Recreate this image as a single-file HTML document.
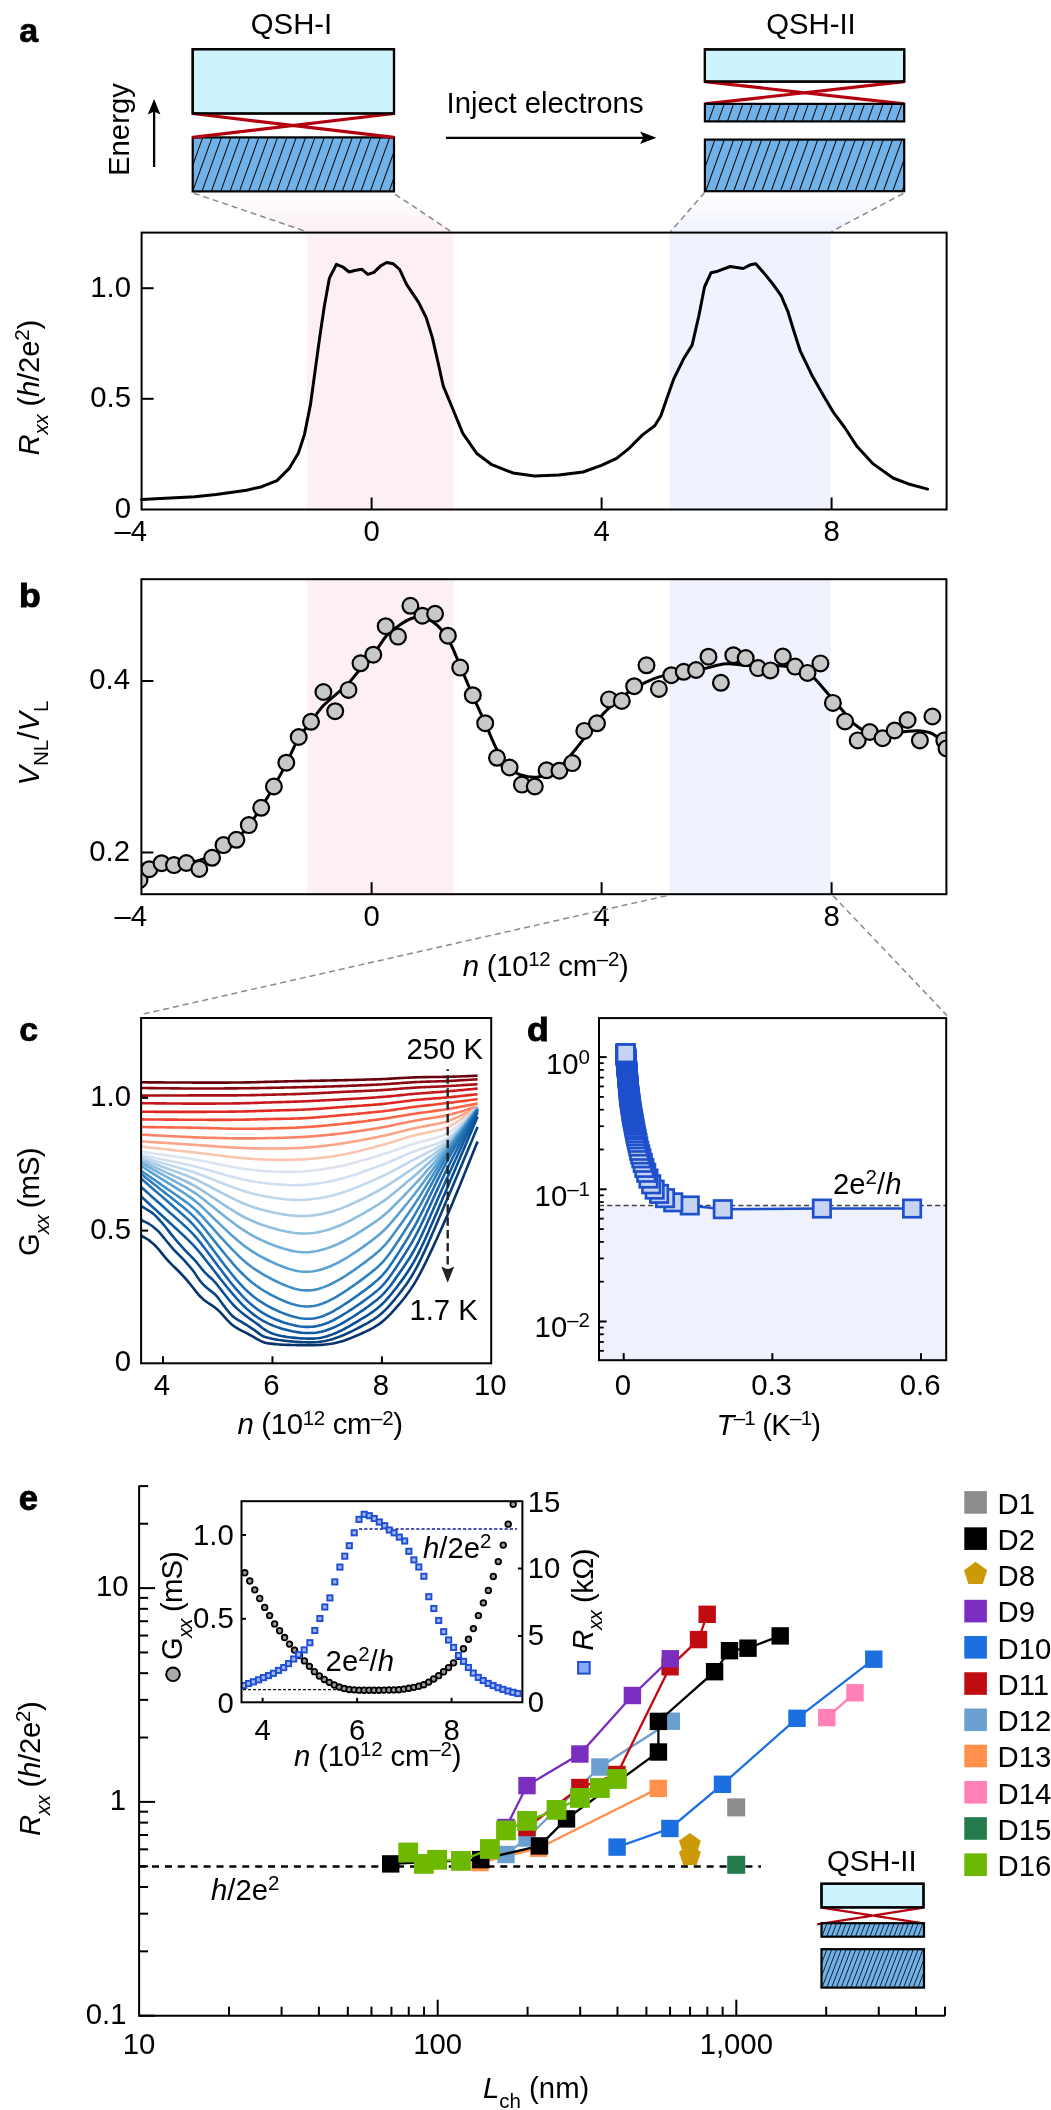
<!DOCTYPE html><html><head><meta charset="utf-8"><title>Figure</title><style>html,body{margin:0;padding:0;background:#fff;overflow:hidden;}svg{display:block;will-change:transform;}text{font-family:"Liberation Sans",sans-serif;}</style></head><body><svg width="1051" height="2110" viewBox="0 0 1051 2110" font-family="Liberation Sans, sans-serif"><defs><linearGradient id="gpink" x1="0" y1="0" x2="0" y2="1"><stop offset="0" stop-color="#ffffff"/><stop offset="1" stop-color="#fcf0f5"/></linearGradient><linearGradient id="gblue" x1="0" y1="0" x2="0" y2="1"><stop offset="0" stop-color="#ffffff"/><stop offset="1" stop-color="#f0f2fe"/></linearGradient><clipPath id="hb2"><rect x="192.7" y="137.4" width="201.3" height="54"/></clipPath><clipPath id="hb3"><rect x="704.9" y="103.9" width="199.3" height="17.5"/></clipPath><clipPath id="hb4"><rect x="704.9" y="139.6" width="199.3" height="51.6"/></clipPath><clipPath id="clipb"><rect x="141.4" y="579.2" width="805" height="315"/></clipPath><clipPath id="clipc"><rect x="141.1" y="1018" width="350.1" height="345.3"/></clipPath><clipPath id="hb7"><rect x="821.5" y="1923.2" width="102.5" height="13.5"/></clipPath><clipPath id="hb8"><rect x="821.5" y="1949.2" width="102.5" height="38.4"/></clipPath><clipPath id="clipi"><rect x="241.5" y="1501.2" width="280.9" height="201.1"/></clipPath></defs><rect x="0" y="0" width="1051" height="2110" fill="#fff"/><text x="19.3" y="42" font-size="34" font-weight="bold" stroke="#000" stroke-width="0.7">a</text>
<polygon points="193,192.5 394.5,192.5 453.3,232 307,232" fill="url(#gpink)"/>
<polygon points="705,192.5 904.5,192.5 830.7,232 669.9,232" fill="url(#gblue)"/>
<path d="M193.8,193.2 L306,231.5 M395.2,194.3 L451,231.5 M704.6,192.6 L670.5,231.5 M903.3,193.5 L831.5,231.5" stroke="#8a8a8a" stroke-width="1.5" stroke-dasharray="6,4" fill="none"/>
<text x="291.5" y="34" font-size="29.3" text-anchor="middle" >QSH-I</text>
<rect x="192.7" y="49.2" width="201.3" height="64.3" fill="#cdf3fc" stroke="#000" stroke-width="2.2" />
<rect x="192.7" y="137.4" width="201.3" height="54" fill="#70b2e8" stroke="none" stroke-width="0" />
<path d="M145.91,191.4 L165.35,137.4 M155.26,191.4 L174.7,137.4 M164.61,191.4 L184.05,137.4 M173.96,191.4 L193.4,137.4 M183.31,191.4 L202.75,137.4 M192.66,191.4 L212.1,137.4 M202.01,191.4 L221.45,137.4 M211.36,191.4 L230.8,137.4 M220.71,191.4 L240.15,137.4 M230.06,191.4 L249.5,137.4 M239.41,191.4 L258.85,137.4 M248.76,191.4 L268.2,137.4 M258.11,191.4 L277.55,137.4 M267.46,191.4 L286.9,137.4 M276.81,191.4 L296.25,137.4 M286.16,191.4 L305.6,137.4 M295.51,191.4 L314.95,137.4 M304.86,191.4 L324.3,137.4 M314.21,191.4 L333.65,137.4 M323.56,191.4 L343,137.4 M332.91,191.4 L352.35,137.4 M342.26,191.4 L361.7,137.4 M351.61,191.4 L371.05,137.4 M360.96,191.4 L380.4,137.4 M370.31,191.4 L389.75,137.4 M379.66,191.4 L399.1,137.4 M389.01,191.4 L408.45,137.4" stroke="#111" stroke-width="1.1" clip-path="url(#hb2)" fill="none"/>
<rect x="192.7" y="137.4" width="201.3" height="54" fill="none" stroke="#000" stroke-width="2.2" />
<path d="M192.7,113.5 L394,137.4 M192.7,137.4 L394,113.5" stroke="#b4000e" stroke-width="3.2" fill="none"/>
<rect x="192.7" y="49.2" width="201.3" height="64.3" fill="none" stroke="#000" stroke-width="2.2" />
<text x="811" y="34" font-size="29.3" text-anchor="middle" >QSH-II</text>
<rect x="704.9" y="49.4" width="199.3" height="32.2" fill="#cdf3fc" stroke="#000" stroke-width="2.2" />
<path d="M704.9,81.6 L904.2,103.9 M704.9,103.9 L904.2,81.6" stroke="#b4000e" stroke-width="3.2" fill="none"/>
<rect x="704.9" y="103.9" width="199.3" height="17.5" fill="#70b2e8" stroke="none" stroke-width="0" />
<path d="M671.25,121.4 L677.55,103.9 M680.6,121.4 L686.9,103.9 M689.95,121.4 L696.25,103.9 M699.3,121.4 L705.6,103.9 M708.65,121.4 L714.95,103.9 M718,121.4 L724.3,103.9 M727.35,121.4 L733.65,103.9 M736.7,121.4 L743,103.9 M746.05,121.4 L752.35,103.9 M755.4,121.4 L761.7,103.9 M764.75,121.4 L771.05,103.9 M774.1,121.4 L780.4,103.9 M783.45,121.4 L789.75,103.9 M792.8,121.4 L799.1,103.9 M802.15,121.4 L808.45,103.9 M811.5,121.4 L817.8,103.9 M820.85,121.4 L827.15,103.9 M830.2,121.4 L836.5,103.9 M839.55,121.4 L845.85,103.9 M848.9,121.4 L855.2,103.9 M858.25,121.4 L864.55,103.9 M867.6,121.4 L873.9,103.9 M876.95,121.4 L883.25,103.9 M886.3,121.4 L892.6,103.9 M895.65,121.4 L901.95,103.9 M905,121.4 L911.3,103.9" stroke="#111" stroke-width="1.1" clip-path="url(#hb3)" fill="none"/>
<rect x="704.9" y="103.9" width="199.3" height="17.5" fill="none" stroke="#000" stroke-width="2.2" />
<rect x="704.9" y="139.6" width="199.3" height="51.6" fill="#70b2e8" stroke="none" stroke-width="0" />
<path d="M658.97,191.2 L677.55,139.6 M668.32,191.2 L686.9,139.6 M677.67,191.2 L696.25,139.6 M687.02,191.2 L705.6,139.6 M696.37,191.2 L714.95,139.6 M705.72,191.2 L724.3,139.6 M715.07,191.2 L733.65,139.6 M724.42,191.2 L743,139.6 M733.77,191.2 L752.35,139.6 M743.12,191.2 L761.7,139.6 M752.47,191.2 L771.05,139.6 M761.82,191.2 L780.4,139.6 M771.17,191.2 L789.75,139.6 M780.52,191.2 L799.1,139.6 M789.87,191.2 L808.45,139.6 M799.22,191.2 L817.8,139.6 M808.57,191.2 L827.15,139.6 M817.92,191.2 L836.5,139.6 M827.27,191.2 L845.85,139.6 M836.62,191.2 L855.2,139.6 M845.97,191.2 L864.55,139.6 M855.32,191.2 L873.9,139.6 M864.67,191.2 L883.25,139.6 M874.02,191.2 L892.6,139.6 M883.37,191.2 L901.95,139.6 M892.72,191.2 L911.3,139.6 M902.07,191.2 L920.65,139.6" stroke="#111" stroke-width="1.1" clip-path="url(#hb4)" fill="none"/>
<rect x="704.9" y="139.6" width="199.3" height="51.6" fill="none" stroke="#000" stroke-width="2.2" />
<rect x="704.9" y="49.4" width="199.3" height="32.2" fill="none" stroke="#000" stroke-width="2.2" />
<text x="446.5" y="112.7" font-size="29.3" >Inject electrons</text>
<line x1="446" y1="137.8" x2="645" y2="137.8" stroke="#000" stroke-width="2.2" />
<path d="M656.5,137.8 L640,131.5 L643.5,137.8 L640,144.1 Z" fill="#000"/>
<text transform="translate(129,176) rotate(-90)" x="0" y="0" font-size="29.3" text-anchor="start" >Energy</text>
<line x1="154.1" y1="167" x2="154.1" y2="110" stroke="#000" stroke-width="2.3" />
<path d="M154.1,99 L147.8,114.5 L154.1,111.5 L160.4,114.5 Z" fill="#000"/>
<rect x="307" y="232.6" width="146.5" height="276.9" fill="#fcf0f5" stroke="none" stroke-width="0" />
<rect x="669.2" y="232.6" width="161.4" height="276.9" fill="#f0f2fe" stroke="none" stroke-width="0" />
<polyline points="141.5,499.4 170.4,497.9 194.8,496.7 216.1,494.6 246.6,490.3 261.8,486.7 277,480.6 289.2,468.4 298.3,453.2 304.4,434.9 310.5,404.4 315.1,370.9 319.7,337.4 324.2,307 329.4,278.1 336.4,264.4 342.5,266.8 349.2,272 354.7,270.5 361.7,269.2 367.8,274.4 373.9,272.3 380.6,265.9 386.7,262.5 393.3,263.8 399.7,269.5 406.4,284.2 418.6,302.4 426.2,317.6 432.3,337.4 437.5,360 443.3,386.2 452.2,407.5 462.8,433.4 476.5,453.2 491.8,464.7 513.1,473 534.4,476 558.8,475.1 583.1,472 601.4,465.3 616.6,458.3 628.8,448.6 642.5,434.9 654.7,425.8 660.8,416 666.9,398.3 673.9,378.6 683.6,358.8 692.1,345.1 698.8,316.1 704.5,287 711.1,272.7 717.8,271.2 730.2,266.5 743.3,268.5 750.7,264.7 755.7,263.8 764.3,273.4 774.2,285.8 781.1,295.7 787.8,311.3 794,331.5 800.2,350.8 812.6,376.6 823.7,395.9 833.6,412.7 844.7,427.5 857.1,446.6 873.2,463.9 893,478 907.8,483.7 927.6,489.1" fill="none" stroke="#000" stroke-width="3" stroke-linejoin="round" stroke-linecap="round"/>
<rect x="141.6" y="232.6" width="805" height="276.9" fill="none" stroke="#000" stroke-width="2" />
<line x1="141.6" y1="288.2" x2="153.6" y2="288.2" stroke="#000" stroke-width="2" />
<line x1="141.6" y1="398.8" x2="153.6" y2="398.8" stroke="#000" stroke-width="2" />
<line x1="371.6" y1="509.5" x2="371.6" y2="497.5" stroke="#000" stroke-width="2" />
<line x1="601.6" y1="509.5" x2="601.6" y2="497.5" stroke="#000" stroke-width="2" />
<line x1="831.6" y1="509.5" x2="831.6" y2="497.5" stroke="#000" stroke-width="2" />
<text x="131" y="296.6" font-size="29.3" text-anchor="end" >1.0</text>
<text x="131" y="407.2" font-size="29.3" text-anchor="end" >0.5</text>
<text x="131" y="517.7" font-size="29.3" text-anchor="end" >0</text>
<text x="147" y="540.5" font-size="29.3" text-anchor="end" >–4</text>
<text x="371.6" y="540.5" font-size="29.3" text-anchor="middle" >0</text>
<text x="601.6" y="540.5" font-size="29.3" text-anchor="middle" >4</text>
<text x="831.6" y="540.5" font-size="29.3" text-anchor="middle" >8</text>
<text transform="translate(38.6,455.5) rotate(-90)" x="0" y="0" font-size="29.3" text-anchor="start" textLength="135.7"><tspan font-style="italic">R</tspan><tspan font-style="italic" font-size="20.5" dy="9.5">xx</tspan><tspan dy="-9.5"> (</tspan><tspan font-style="italic">h</tspan>/2e<tspan font-size="20.5" dy="-9.8">2</tspan><tspan dy="9.8">)</tspan></text>
<text x="19" y="606.6" font-size="33" font-weight="bold" stroke="#000" stroke-width="0.9" transform="translate(19,606.6) scale(1.08,1) translate(-19,-606.6)">b</text>
<rect x="307" y="579.2" width="146.5" height="315" fill="#fcf0f5" stroke="none" stroke-width="0" />
<rect x="669.2" y="579.2" width="161.4" height="315" fill="#f0f2fe" stroke="none" stroke-width="0" />
<path d="M141.7,884.5 C142.97,882.17 145.98,873.83 149.3,870.5 C152.62,867.17 155.42,865.67 161.6,864.5 C167.78,863.33 180.37,864.13 186.4,863.5 C192.43,862.87 193.68,861.95 197.8,860.7 C201.92,859.45 206.82,858.38 211.1,856 C215.38,853.62 219.28,849.27 223.5,846.4 C227.72,843.53 232.18,842.28 236.4,838.8 C240.62,835.32 244.67,830.73 248.8,825.5 C252.93,820.27 257.02,813.9 261.2,807.4 C265.38,800.9 269.72,793.8 273.9,786.5 C278.08,779.2 282.17,771.68 286.3,763.6 C290.43,755.52 294.58,744.97 298.7,738 C302.82,731.03 306.88,727.2 311,721.8 C315.12,716.4 318.73,710.6 323.4,705.6 C328.07,700.6 334.82,695.53 339,691.8 C343.18,688.07 345.32,686.53 348.5,683.2 C351.68,679.87 353.97,676.55 358.1,671.8 C362.23,667.05 368.7,660.55 373.3,654.7 C377.9,648.85 381.58,641.45 385.7,636.7 C389.82,631.95 393.73,629.23 398,626.2 C402.27,623.17 407.23,619.93 411.3,618.5 C415.37,617.07 418.9,617.12 422.4,617.6 C425.9,618.08 429.07,619.33 432.3,621.4 C435.53,623.47 438.63,626.03 441.8,630 C444.97,633.97 448.23,639.18 451.3,645.2 C454.37,651.22 456.62,657.7 460.2,666.1 C463.78,674.5 468.63,686.08 472.8,695.6 C476.97,705.12 481.17,714.17 485.2,723.2 C489.23,732.23 492.98,742.35 497,749.8 C501.02,757.25 505.47,763.77 509.3,767.9 C513.13,772.03 515.22,773.08 520,774.6 C524.78,776.12 531.83,777.87 538,777 C544.17,776.13 551.28,773.37 557,769.4 C562.72,765.43 567.85,758.28 572.3,753.2 C576.75,748.12 578.62,745.4 583.7,738.9 C588.78,732.4 597.72,720.07 602.8,714.2 C607.88,708.33 609.77,707.5 614.2,703.7 C618.63,699.9 624.33,694.88 629.4,691.4 C634.47,687.92 639.22,685.35 644.6,682.8 C649.98,680.25 654.08,678 661.7,676.1 C669.32,674.2 683.13,672.67 690.3,671.4 C697.47,670.13 698.8,669.77 704.7,668.5 C710.6,667.23 719.03,664.35 725.7,663.8 C732.37,663.25 738.32,664.88 744.7,665.2 C751.08,665.52 757.65,665.58 764,665.7 C770.35,665.82 776.5,665.27 782.8,665.9 C789.1,666.53 796.73,667.63 801.8,669.5 C806.87,671.37 808.77,672.98 813.2,677.1 C817.63,681.22 823.65,688.82 828.4,694.2 C833.15,699.58 837.32,704.37 841.7,709.4 C846.08,714.43 850.65,720.73 854.7,724.4 C858.75,728.07 861.45,729.73 866,731.4 C870.55,733.07 875.63,734.35 882,734.4 C888.37,734.45 898.03,732.32 904.2,731.7 C910.37,731.08 914.27,730.35 919,730.7 C923.73,731.05 928.85,731.92 932.6,733.8 C936.35,735.68 939.18,738.3 941.5,742 C943.82,745.7 945.67,753.67 946.5,756" fill="none" stroke="#000" stroke-width="3" stroke-linejoin="round" clip-path="url(#clipb)"/>
<g fill="#c8c8c8" stroke="#000" stroke-width="2.2" clip-path="url(#clipb)"><circle cx="139.5" cy="880" r="7.9"/><circle cx="149.3" cy="869.2" r="7.9"/><circle cx="161.6" cy="863.2" r="7.9"/><circle cx="174" cy="865.1" r="7.9"/><circle cx="186.4" cy="863" r="7.9"/><circle cx="199.3" cy="868.9" r="7.9"/><circle cx="212.1" cy="857.8" r="7.9"/><circle cx="223.5" cy="845.1" r="7.9"/><circle cx="236.4" cy="839.8" r="7.9"/><circle cx="248.8" cy="825.1" r="7.9"/><circle cx="261.2" cy="807.8" r="7.9"/><circle cx="273.9" cy="786.5" r="7.9"/><circle cx="286.3" cy="762.7" r="7.9"/><circle cx="298.7" cy="737" r="7.9"/><circle cx="311" cy="721.8" r="7.9"/><circle cx="323.4" cy="692" r="7.9"/><circle cx="335.2" cy="711.2" r="7.9"/><circle cx="348.5" cy="689.9" r="7.9"/><circle cx="360.5" cy="663.3" r="7.9"/><circle cx="373.3" cy="654.7" r="7.9"/><circle cx="385.7" cy="626.2" r="7.9"/><circle cx="398" cy="636.6" r="7.9"/><circle cx="410.4" cy="605.8" r="7.9"/><circle cx="422.4" cy="615.7" r="7.9"/><circle cx="435.1" cy="613.8" r="7.9"/><circle cx="447.9" cy="635.7" r="7.9"/><circle cx="460.2" cy="667.6" r="7.9"/><circle cx="472.8" cy="695.2" r="7.9"/><circle cx="485.2" cy="723.2" r="7.9"/><circle cx="497" cy="757.8" r="7.9"/><circle cx="509.6" cy="767.5" r="7.9"/><circle cx="521.9" cy="784.6" r="7.9"/><circle cx="534.8" cy="786.5" r="7.9"/><circle cx="546.6" cy="770.3" r="7.9"/><circle cx="559.4" cy="770.7" r="7.9"/><circle cx="572.3" cy="763.1" r="7.9"/><circle cx="584.3" cy="730.9" r="7.9"/><circle cx="597" cy="723.3" r="7.9"/><circle cx="609" cy="699.4" r="7.9"/><circle cx="621.8" cy="700.9" r="7.9"/><circle cx="634.2" cy="686.2" r="7.9"/><circle cx="646.5" cy="665.3" r="7.9"/><circle cx="658.9" cy="688.9" r="7.9"/><circle cx="671.3" cy="675.2" r="7.9"/><circle cx="683.7" cy="671.8" r="7.9"/><circle cx="696.1" cy="670" r="7.9"/><circle cx="708.5" cy="656.7" r="7.9"/><circle cx="720.9" cy="682.8" r="7.9"/><circle cx="733.3" cy="655.2" r="7.9"/><circle cx="745.7" cy="658.1" r="7.9"/><circle cx="758" cy="668.1" r="7.9"/><circle cx="770.4" cy="670.4" r="7.9"/><circle cx="782.8" cy="656.5" r="7.9"/><circle cx="795.1" cy="666.6" r="7.9"/><circle cx="807.5" cy="672.9" r="7.9"/><circle cx="820.4" cy="663.4" r="7.9"/><circle cx="832.9" cy="702.9" r="7.9"/><circle cx="845.1" cy="721.4" r="7.9"/><circle cx="857.7" cy="740.4" r="7.9"/><circle cx="869.8" cy="732" r="7.9"/><circle cx="882.6" cy="738.2" r="7.9"/><circle cx="894.6" cy="730.5" r="7.9"/><circle cx="907.6" cy="720" r="7.9"/><circle cx="919.9" cy="740.4" r="7.9"/><circle cx="932.4" cy="716.5" r="7.9"/><circle cx="944.3" cy="740.4" r="7.9"/><circle cx="946.5" cy="748.4" r="7.9"/></g>
<rect x="141.4" y="579.2" width="805" height="315" fill="none" stroke="#000" stroke-width="2" />
<line x1="141.4" y1="681" x2="153.4" y2="681" stroke="#000" stroke-width="2" />
<line x1="141.4" y1="852.5" x2="153.4" y2="852.5" stroke="#000" stroke-width="2" />
<line x1="371.6" y1="894.2" x2="371.6" y2="882.2" stroke="#000" stroke-width="2" />
<line x1="601.6" y1="894.2" x2="601.6" y2="882.2" stroke="#000" stroke-width="2" />
<line x1="831.6" y1="894.2" x2="831.6" y2="882.2" stroke="#000" stroke-width="2" />
<text x="130" y="689" font-size="29.3" text-anchor="end" >0.4</text>
<text x="130" y="860.5" font-size="29.3" text-anchor="end" >0.2</text>
<text x="147" y="926.4" font-size="29.3" text-anchor="end" >–4</text>
<text x="371.6" y="926.4" font-size="29.3" text-anchor="middle" >0</text>
<text x="601.6" y="926.4" font-size="29.3" text-anchor="middle" >4</text>
<text x="831.6" y="926.4" font-size="29.3" text-anchor="middle" >8</text>
<text x="462.8" y="975.6" font-size="29.3" textLength="166"><tspan font-style="italic">n</tspan> (10<tspan font-size="20.5" dy="-9.8">12</tspan><tspan dy="9.8"> cm</tspan><tspan font-size="20.5" dy="-9.8">–2</tspan><tspan dy="9.8">)</tspan></text>
<text transform="translate(38.6,785.5) rotate(-90)" x="0" y="0" font-size="29.3" text-anchor="start" ><tspan font-style="italic">V</tspan><tspan font-size="20.5" dy="9.5">NL</tspan><tspan dy="-9.5">/</tspan><tspan font-style="italic">V</tspan><tspan font-size="20.5" dy="9.5">L</tspan></text>
<path d="M666.5,895.7 L141,1014.5 M833,895.7 L947,1015.5" stroke="#8a8a8a" stroke-width="1.5" stroke-dasharray="6,4" fill="none"/>
<text x="19.2" y="1041" font-size="34" font-weight="bold" stroke="#000" stroke-width="0.7">c</text>
<g fill="none" stroke-width="2.6" stroke-linejoin="round" clip-path="url(#clipc)"><polyline points="141.1,1082.3 143.1,1082.31 145.1,1082.32 147.1,1082.33 149.1,1082.34 151.1,1082.36 153.1,1082.37 155.1,1082.38 157.1,1082.39 159.1,1082.4 161.1,1082.41 163.1,1082.42 165.1,1082.43 167.1,1082.44 169.1,1082.46 171.1,1082.47 173.1,1082.48 175.1,1082.49 177.1,1082.5 179.1,1082.51 181.1,1082.52 183.1,1082.53 185.1,1082.54 187.1,1082.55 189.1,1082.56 191.1,1082.57 193.1,1082.58 195.1,1082.58 197.1,1082.59 199.1,1082.59 201.1,1082.6 203.1,1082.6 205.1,1082.6 207.1,1082.6 209.1,1082.6 211.1,1082.6 213.1,1082.6 215.1,1082.6 217.1,1082.6 219.1,1082.6 221.1,1082.6 223.1,1082.59 225.1,1082.59 227.1,1082.58 229.1,1082.58 231.1,1082.57 233.1,1082.56 235.1,1082.54 237.1,1082.52 239.1,1082.5 241.1,1082.48 243.1,1082.45 245.1,1082.41 247.1,1082.38 249.1,1082.34 251.1,1082.29 253.1,1082.24 255.1,1082.19 257.1,1082.14 259.1,1082.08 261.1,1082.02 263.1,1081.97 265.1,1081.91 267.1,1081.85 269.1,1081.79 271.1,1081.74 273.1,1081.68 275.1,1081.63 277.1,1081.58 279.1,1081.53 281.1,1081.48 283.1,1081.43 285.1,1081.38 287.1,1081.34 289.1,1081.29 291.1,1081.25 293.1,1081.21 295.1,1081.16 297.1,1081.12 299.1,1081.08 301.1,1081.04 303.1,1081 305.1,1080.97 307.1,1080.93 309.1,1080.89 311.1,1080.85 313.1,1080.81 315.1,1080.78 317.1,1080.74 319.1,1080.7 321.1,1080.66 323.1,1080.62 325.1,1080.58 327.1,1080.54 329.1,1080.5 331.1,1080.46 333.1,1080.42 335.1,1080.38 337.1,1080.33 339.1,1080.29 341.1,1080.24 343.1,1080.2 345.1,1080.15 347.1,1080.1 349.1,1080.05 351.1,1080 353.1,1079.95 355.1,1079.9 357.1,1079.84 359.1,1079.79 361.1,1079.74 363.1,1079.68 365.1,1079.63 367.1,1079.57 369.1,1079.51 371.1,1079.45 373.1,1079.39 375.1,1079.33 377.1,1079.26 379.1,1079.19 381.1,1079.12 383.1,1079.04 385.1,1078.95 387.1,1078.85 389.1,1078.75 391.1,1078.64 393.1,1078.52 395.1,1078.4 397.1,1078.28 399.1,1078.16 401.1,1078.04 403.1,1077.93 405.1,1077.81 407.1,1077.7 409.1,1077.6 411.1,1077.5 413.1,1077.41 415.1,1077.34 417.1,1077.28 419.1,1077.22 421.1,1077.18 423.1,1077.15 425.1,1077.12 427.1,1077.09 429.1,1077.07 431.1,1077.05 433.1,1077.03 435.1,1077.01 437.1,1076.99 439.1,1076.97 441.1,1076.94 443.1,1076.91 445.1,1076.87 447.1,1076.82 449.1,1076.77 451.1,1076.72 453.1,1076.65 455.1,1076.58 457.1,1076.51 459.1,1076.43 461.1,1076.36 463.1,1076.28 465.1,1076.2 467.1,1076.12 469.1,1076.04 471.1,1075.96 473.1,1075.88 475.1,1075.8 477.1,1075.72 477.6,1075.7" stroke="#67000d"/><polyline points="141.1,1088 143.1,1088.02 145.1,1088.04 147.1,1088.07 149.1,1088.09 151.1,1088.11 153.1,1088.13 155.1,1088.16 157.1,1088.18 159.1,1088.2 161.1,1088.22 163.1,1088.24 165.1,1088.27 167.1,1088.29 169.1,1088.31 171.1,1088.33 173.1,1088.36 175.1,1088.38 177.1,1088.4 179.1,1088.42 181.1,1088.44 183.1,1088.47 185.1,1088.49 187.1,1088.5 189.1,1088.52 191.1,1088.54 193.1,1088.55 195.1,1088.55 197.1,1088.56 199.1,1088.56 201.1,1088.55 203.1,1088.54 205.1,1088.53 207.1,1088.52 209.1,1088.51 211.1,1088.5 213.1,1088.49 215.1,1088.48 217.1,1088.47 219.1,1088.45 221.1,1088.44 223.1,1088.43 225.1,1088.42 227.1,1088.4 229.1,1088.39 231.1,1088.37 233.1,1088.36 235.1,1088.34 237.1,1088.33 239.1,1088.31 241.1,1088.29 243.1,1088.27 245.1,1088.25 247.1,1088.22 249.1,1088.2 251.1,1088.17 253.1,1088.15 255.1,1088.12 257.1,1088.09 259.1,1088.06 261.1,1088.03 263.1,1087.99 265.1,1087.96 267.1,1087.92 269.1,1087.89 271.1,1087.85 273.1,1087.81 275.1,1087.77 277.1,1087.73 279.1,1087.69 281.1,1087.65 283.1,1087.61 285.1,1087.57 287.1,1087.52 289.1,1087.48 291.1,1087.44 293.1,1087.39 295.1,1087.35 297.1,1087.3 299.1,1087.26 301.1,1087.21 303.1,1087.17 305.1,1087.12 307.1,1087.08 309.1,1087.03 311.1,1086.98 313.1,1086.93 315.1,1086.88 317.1,1086.83 319.1,1086.78 321.1,1086.73 323.1,1086.67 325.1,1086.62 327.1,1086.56 329.1,1086.5 331.1,1086.44 333.1,1086.37 335.1,1086.31 337.1,1086.24 339.1,1086.17 341.1,1086.11 343.1,1086.03 345.1,1085.96 347.1,1085.89 349.1,1085.81 351.1,1085.74 353.1,1085.66 355.1,1085.58 357.1,1085.5 359.1,1085.42 361.1,1085.33 363.1,1085.25 365.1,1085.17 367.1,1085.08 369.1,1084.99 371.1,1084.91 373.1,1084.82 375.1,1084.73 377.1,1084.63 379.1,1084.53 381.1,1084.43 383.1,1084.32 385.1,1084.2 387.1,1084.07 389.1,1083.94 391.1,1083.8 393.1,1083.65 395.1,1083.51 397.1,1083.36 399.1,1083.21 401.1,1083.06 403.1,1082.91 405.1,1082.76 407.1,1082.62 409.1,1082.48 411.1,1082.36 413.1,1082.24 415.1,1082.13 417.1,1082.03 419.1,1081.94 421.1,1081.87 423.1,1081.8 425.1,1081.73 427.1,1081.67 429.1,1081.61 431.1,1081.55 433.1,1081.5 435.1,1081.44 437.1,1081.38 439.1,1081.32 441.1,1081.26 443.1,1081.19 445.1,1081.11 447.1,1081.03 449.1,1080.94 451.1,1080.84 453.1,1080.74 455.1,1080.63 457.1,1080.52 459.1,1080.4 461.1,1080.29 463.1,1080.17 465.1,1080.05 467.1,1079.93 469.1,1079.81 471.1,1079.69 473.1,1079.57 475.1,1079.45 477.1,1079.33 477.6,1079.3" stroke="#8a0812"/><polyline points="141.1,1095.6 143.1,1095.59 145.1,1095.59 147.1,1095.58 149.1,1095.57 151.1,1095.56 153.1,1095.56 155.1,1095.55 157.1,1095.54 159.1,1095.53 161.1,1095.53 163.1,1095.52 165.1,1095.51 167.1,1095.5 169.1,1095.5 171.1,1095.49 173.1,1095.48 175.1,1095.47 177.1,1095.47 179.1,1095.46 181.1,1095.45 183.1,1095.44 185.1,1095.44 187.1,1095.43 189.1,1095.42 191.1,1095.42 193.1,1095.41 195.1,1095.41 197.1,1095.41 199.1,1095.4 201.1,1095.4 203.1,1095.4 205.1,1095.4 207.1,1095.4 209.1,1095.4 211.1,1095.4 213.1,1095.4 215.1,1095.4 217.1,1095.4 219.1,1095.4 221.1,1095.4 223.1,1095.4 225.1,1095.39 227.1,1095.39 229.1,1095.38 231.1,1095.37 233.1,1095.37 235.1,1095.35 237.1,1095.34 239.1,1095.32 241.1,1095.3 243.1,1095.28 245.1,1095.26 247.1,1095.23 249.1,1095.19 251.1,1095.16 253.1,1095.12 255.1,1095.08 257.1,1095.03 259.1,1094.99 261.1,1094.94 263.1,1094.9 265.1,1094.85 267.1,1094.8 269.1,1094.75 271.1,1094.7 273.1,1094.65 275.1,1094.6 277.1,1094.56 279.1,1094.51 281.1,1094.46 283.1,1094.41 285.1,1094.36 287.1,1094.31 289.1,1094.25 291.1,1094.2 293.1,1094.14 295.1,1094.08 297.1,1094.02 299.1,1093.95 301.1,1093.89 303.1,1093.81 305.1,1093.74 307.1,1093.66 309.1,1093.57 311.1,1093.49 313.1,1093.39 315.1,1093.3 317.1,1093.21 319.1,1093.11 321.1,1093.01 323.1,1092.91 325.1,1092.81 327.1,1092.71 329.1,1092.61 331.1,1092.5 333.1,1092.4 335.1,1092.3 337.1,1092.2 339.1,1092.1 341.1,1092.01 343.1,1091.91 345.1,1091.82 347.1,1091.72 349.1,1091.63 351.1,1091.54 353.1,1091.45 355.1,1091.36 357.1,1091.27 359.1,1091.18 361.1,1091.09 363.1,1091 365.1,1090.91 367.1,1090.82 369.1,1090.72 371.1,1090.63 373.1,1090.54 375.1,1090.44 377.1,1090.34 379.1,1090.23 381.1,1090.12 383.1,1090 385.1,1089.87 387.1,1089.74 389.1,1089.6 391.1,1089.44 393.1,1089.29 395.1,1089.13 397.1,1088.96 399.1,1088.8 401.1,1088.64 403.1,1088.48 405.1,1088.32 407.1,1088.16 409.1,1088.01 411.1,1087.87 413.1,1087.74 415.1,1087.61 417.1,1087.49 419.1,1087.39 421.1,1087.29 423.1,1087.19 425.1,1087.11 427.1,1087.02 429.1,1086.94 431.1,1086.86 433.1,1086.78 435.1,1086.69 437.1,1086.61 439.1,1086.53 441.1,1086.44 443.1,1086.35 445.1,1086.25 447.1,1086.15 449.1,1086.04 451.1,1085.93 453.1,1085.81 455.1,1085.68 457.1,1085.56 459.1,1085.43 461.1,1085.3 463.1,1085.16 465.1,1085.03 467.1,1084.9 469.1,1084.76 471.1,1084.63 473.1,1084.5 475.1,1084.37 477.1,1084.23 477.6,1084.2" stroke="#a50f15"/><polyline points="141.1,1103.2 143.1,1103.22 145.1,1103.24 147.1,1103.26 149.1,1103.27 151.1,1103.29 153.1,1103.31 155.1,1103.33 157.1,1103.35 159.1,1103.37 161.1,1103.39 163.1,1103.4 165.1,1103.42 167.1,1103.44 169.1,1103.46 171.1,1103.48 173.1,1103.5 175.1,1103.52 177.1,1103.53 179.1,1103.55 181.1,1103.57 183.1,1103.59 185.1,1103.6 187.1,1103.62 189.1,1103.63 191.1,1103.64 193.1,1103.65 195.1,1103.66 197.1,1103.66 199.1,1103.66 201.1,1103.65 203.1,1103.64 205.1,1103.63 207.1,1103.62 209.1,1103.61 211.1,1103.6 213.1,1103.59 215.1,1103.58 217.1,1103.56 219.1,1103.55 221.1,1103.54 223.1,1103.52 225.1,1103.51 227.1,1103.49 229.1,1103.47 231.1,1103.45 233.1,1103.42 235.1,1103.4 237.1,1103.37 239.1,1103.33 241.1,1103.29 243.1,1103.25 245.1,1103.2 247.1,1103.15 249.1,1103.1 251.1,1103.04 253.1,1102.98 255.1,1102.91 257.1,1102.85 259.1,1102.78 261.1,1102.71 263.1,1102.64 265.1,1102.57 267.1,1102.5 269.1,1102.44 271.1,1102.37 273.1,1102.31 275.1,1102.25 277.1,1102.19 279.1,1102.13 281.1,1102.08 283.1,1102.02 285.1,1101.96 287.1,1101.91 289.1,1101.85 291.1,1101.79 293.1,1101.73 295.1,1101.66 297.1,1101.59 299.1,1101.52 301.1,1101.44 303.1,1101.36 305.1,1101.28 307.1,1101.19 309.1,1101.1 311.1,1101 313.1,1100.91 315.1,1100.81 317.1,1100.71 319.1,1100.61 321.1,1100.5 323.1,1100.4 325.1,1100.3 327.1,1100.2 329.1,1100.1 331.1,1099.99 333.1,1099.89 335.1,1099.79 337.1,1099.68 339.1,1099.58 341.1,1099.47 343.1,1099.36 345.1,1099.25 347.1,1099.14 349.1,1099.03 351.1,1098.92 353.1,1098.8 355.1,1098.69 357.1,1098.57 359.1,1098.45 361.1,1098.33 363.1,1098.21 365.1,1098.08 367.1,1097.96 369.1,1097.83 371.1,1097.71 373.1,1097.58 375.1,1097.45 377.1,1097.31 379.1,1097.17 381.1,1097.02 383.1,1096.87 385.1,1096.7 387.1,1096.53 389.1,1096.34 391.1,1096.15 393.1,1095.95 395.1,1095.75 397.1,1095.54 399.1,1095.34 401.1,1095.13 403.1,1094.93 405.1,1094.73 407.1,1094.53 409.1,1094.33 411.1,1094.14 413.1,1093.96 415.1,1093.78 417.1,1093.61 419.1,1093.45 421.1,1093.29 423.1,1093.14 425.1,1092.99 427.1,1092.85 429.1,1092.7 431.1,1092.56 433.1,1092.42 435.1,1092.28 437.1,1092.13 439.1,1091.99 441.1,1091.84 443.1,1091.69 445.1,1091.53 447.1,1091.37 449.1,1091.21 451.1,1091.04 453.1,1090.86 455.1,1090.68 457.1,1090.5 459.1,1090.32 461.1,1090.13 463.1,1089.95 465.1,1089.76 467.1,1089.58 469.1,1089.39 471.1,1089.2 473.1,1089.02 475.1,1088.83 477.1,1088.65 477.6,1088.6" stroke="#c8171c"/><polyline points="141.1,1111.8 143.1,1111.8 145.1,1111.81 147.1,1111.81 149.1,1111.81 151.1,1111.82 153.1,1111.82 155.1,1111.83 157.1,1111.83 159.1,1111.83 161.1,1111.84 163.1,1111.84 165.1,1111.84 167.1,1111.85 169.1,1111.85 171.1,1111.86 173.1,1111.86 175.1,1111.86 177.1,1111.87 179.1,1111.87 181.1,1111.87 183.1,1111.88 185.1,1111.88 187.1,1111.88 189.1,1111.88 191.1,1111.88 193.1,1111.88 195.1,1111.88 197.1,1111.87 199.1,1111.87 201.1,1111.86 203.1,1111.85 205.1,1111.84 207.1,1111.82 209.1,1111.81 211.1,1111.8 213.1,1111.79 215.1,1111.78 217.1,1111.77 219.1,1111.75 221.1,1111.74 223.1,1111.72 225.1,1111.71 227.1,1111.69 229.1,1111.67 231.1,1111.65 233.1,1111.62 235.1,1111.6 237.1,1111.57 239.1,1111.53 241.1,1111.49 243.1,1111.45 245.1,1111.4 247.1,1111.35 249.1,1111.3 251.1,1111.24 253.1,1111.18 255.1,1111.11 257.1,1111.05 259.1,1110.98 261.1,1110.91 263.1,1110.85 265.1,1110.78 267.1,1110.72 269.1,1110.65 271.1,1110.59 273.1,1110.53 275.1,1110.48 277.1,1110.42 279.1,1110.37 281.1,1110.32 283.1,1110.26 285.1,1110.21 287.1,1110.16 289.1,1110.11 291.1,1110.05 293.1,1109.99 295.1,1109.93 297.1,1109.86 299.1,1109.79 301.1,1109.71 303.1,1109.62 305.1,1109.53 307.1,1109.44 309.1,1109.33 311.1,1109.22 313.1,1109.11 315.1,1108.98 317.1,1108.86 319.1,1108.72 321.1,1108.59 323.1,1108.45 325.1,1108.3 327.1,1108.16 329.1,1108.01 331.1,1107.86 333.1,1107.71 335.1,1107.55 337.1,1107.4 339.1,1107.25 341.1,1107.11 343.1,1106.96 345.1,1106.81 347.1,1106.67 349.1,1106.53 351.1,1106.38 353.1,1106.24 355.1,1106.1 357.1,1105.96 359.1,1105.82 361.1,1105.68 363.1,1105.54 365.1,1105.4 367.1,1105.25 369.1,1105.11 371.1,1104.96 373.1,1104.81 375.1,1104.66 377.1,1104.5 379.1,1104.33 381.1,1104.16 383.1,1103.97 385.1,1103.76 387.1,1103.54 389.1,1103.31 391.1,1103.07 393.1,1102.81 395.1,1102.55 397.1,1102.29 399.1,1102.02 401.1,1101.76 403.1,1101.49 405.1,1101.23 407.1,1100.98 409.1,1100.73 411.1,1100.49 413.1,1100.27 415.1,1100.05 417.1,1099.85 419.1,1099.67 421.1,1099.49 423.1,1099.33 425.1,1099.17 427.1,1099.01 429.1,1098.86 431.1,1098.71 433.1,1098.56 435.1,1098.41 437.1,1098.26 439.1,1098.11 441.1,1097.95 443.1,1097.79 445.1,1097.62 447.1,1097.44 449.1,1097.25 451.1,1097.06 453.1,1096.86 455.1,1096.65 457.1,1096.44 459.1,1096.22 461.1,1096.01 463.1,1095.79 465.1,1095.57 467.1,1095.35 469.1,1095.13 471.1,1094.91 473.1,1094.69 475.1,1094.47 477.1,1094.25 477.6,1094.2" stroke="#e0271f"/><polyline points="141.1,1119.4 143.1,1119.41 145.1,1119.43 147.1,1119.44 149.1,1119.46 151.1,1119.47 153.1,1119.49 155.1,1119.5 157.1,1119.52 159.1,1119.53 161.1,1119.55 163.1,1119.56 165.1,1119.58 167.1,1119.59 169.1,1119.61 171.1,1119.62 173.1,1119.64 175.1,1119.65 177.1,1119.67 179.1,1119.68 181.1,1119.7 183.1,1119.71 185.1,1119.73 187.1,1119.74 189.1,1119.75 191.1,1119.76 193.1,1119.78 195.1,1119.79 197.1,1119.79 199.1,1119.8 201.1,1119.81 203.1,1119.81 205.1,1119.82 207.1,1119.82 209.1,1119.83 211.1,1119.83 213.1,1119.83 215.1,1119.84 217.1,1119.84 219.1,1119.85 221.1,1119.85 223.1,1119.85 225.1,1119.85 227.1,1119.84 229.1,1119.84 231.1,1119.83 233.1,1119.82 235.1,1119.81 237.1,1119.79 239.1,1119.76 241.1,1119.74 243.1,1119.7 245.1,1119.67 247.1,1119.62 249.1,1119.58 251.1,1119.53 253.1,1119.47 255.1,1119.42 257.1,1119.36 259.1,1119.3 261.1,1119.24 263.1,1119.19 265.1,1119.14 267.1,1119.09 269.1,1119.04 271.1,1119 273.1,1118.96 275.1,1118.92 277.1,1118.89 279.1,1118.86 281.1,1118.83 283.1,1118.81 285.1,1118.78 287.1,1118.75 289.1,1118.71 291.1,1118.67 293.1,1118.62 295.1,1118.57 297.1,1118.5 299.1,1118.42 301.1,1118.34 303.1,1118.24 305.1,1118.13 307.1,1118.01 309.1,1117.88 311.1,1117.74 313.1,1117.6 315.1,1117.45 317.1,1117.29 319.1,1117.13 321.1,1116.96 323.1,1116.79 325.1,1116.62 327.1,1116.45 329.1,1116.28 331.1,1116.11 333.1,1115.94 335.1,1115.77 337.1,1115.59 339.1,1115.42 341.1,1115.24 343.1,1115.07 345.1,1114.89 347.1,1114.71 349.1,1114.53 351.1,1114.35 353.1,1114.17 355.1,1113.98 357.1,1113.8 359.1,1113.61 361.1,1113.42 363.1,1113.23 365.1,1113.04 367.1,1112.85 369.1,1112.66 371.1,1112.46 373.1,1112.26 375.1,1112.06 377.1,1111.86 379.1,1111.64 381.1,1111.42 383.1,1111.19 385.1,1110.95 387.1,1110.7 389.1,1110.44 391.1,1110.16 393.1,1109.88 395.1,1109.59 397.1,1109.3 399.1,1109.01 401.1,1108.72 403.1,1108.43 405.1,1108.15 407.1,1107.86 409.1,1107.58 411.1,1107.31 413.1,1107.04 415.1,1106.78 417.1,1106.53 419.1,1106.29 421.1,1106.05 423.1,1105.82 425.1,1105.59 427.1,1105.36 429.1,1105.14 431.1,1104.92 433.1,1104.69 435.1,1104.47 437.1,1104.25 439.1,1104.02 441.1,1103.79 443.1,1103.56 445.1,1103.33 447.1,1103.09 449.1,1102.84 451.1,1102.59 453.1,1102.34 455.1,1102.08 457.1,1101.82 459.1,1101.56 461.1,1101.29 463.1,1101.03 465.1,1100.76 467.1,1100.5 469.1,1100.23 471.1,1099.96 473.1,1099.7 475.1,1099.43 477.1,1099.17 477.6,1099.1" stroke="#f0432f"/><polyline points="141.1,1127 143.1,1127.03 145.1,1127.05 147.1,1127.08 149.1,1127.1 151.1,1127.13 153.1,1127.16 155.1,1127.18 157.1,1127.21 159.1,1127.23 161.1,1127.26 163.1,1127.29 165.1,1127.31 167.1,1127.34 169.1,1127.36 171.1,1127.39 173.1,1127.42 175.1,1127.44 177.1,1127.47 179.1,1127.49 181.1,1127.52 183.1,1127.55 185.1,1127.57 187.1,1127.6 189.1,1127.63 191.1,1127.67 193.1,1127.7 195.1,1127.74 197.1,1127.79 199.1,1127.83 201.1,1127.88 203.1,1127.94 205.1,1127.99 207.1,1128.04 209.1,1128.1 211.1,1128.15 213.1,1128.21 215.1,1128.26 217.1,1128.32 219.1,1128.37 221.1,1128.43 223.1,1128.48 225.1,1128.53 227.1,1128.58 229.1,1128.62 231.1,1128.66 233.1,1128.7 235.1,1128.73 237.1,1128.76 239.1,1128.78 241.1,1128.8 243.1,1128.81 245.1,1128.81 247.1,1128.81 249.1,1128.8 251.1,1128.78 253.1,1128.76 255.1,1128.73 257.1,1128.7 259.1,1128.66 261.1,1128.62 263.1,1128.58 265.1,1128.54 267.1,1128.49 269.1,1128.45 271.1,1128.4 273.1,1128.35 275.1,1128.3 277.1,1128.25 279.1,1128.2 281.1,1128.15 283.1,1128.09 285.1,1128.04 287.1,1127.98 289.1,1127.91 291.1,1127.84 293.1,1127.77 295.1,1127.69 297.1,1127.6 299.1,1127.51 301.1,1127.4 303.1,1127.29 305.1,1127.17 307.1,1127.04 309.1,1126.91 311.1,1126.77 313.1,1126.62 315.1,1126.46 317.1,1126.3 319.1,1126.13 321.1,1125.96 323.1,1125.78 325.1,1125.6 327.1,1125.42 329.1,1125.23 331.1,1125.03 333.1,1124.84 335.1,1124.64 337.1,1124.43 339.1,1124.22 341.1,1124.01 343.1,1123.79 345.1,1123.57 347.1,1123.34 349.1,1123.11 351.1,1122.88 353.1,1122.64 355.1,1122.4 357.1,1122.16 359.1,1121.91 361.1,1121.67 363.1,1121.42 365.1,1121.17 367.1,1120.92 369.1,1120.66 371.1,1120.41 373.1,1120.15 375.1,1119.89 377.1,1119.63 379.1,1119.36 381.1,1119.08 383.1,1118.8 385.1,1118.5 387.1,1118.2 389.1,1117.89 391.1,1117.57 393.1,1117.24 395.1,1116.91 397.1,1116.58 399.1,1116.25 401.1,1115.92 403.1,1115.59 405.1,1115.26 407.1,1114.93 409.1,1114.61 411.1,1114.29 413.1,1113.98 415.1,1113.67 417.1,1113.37 419.1,1113.08 421.1,1112.8 423.1,1112.52 425.1,1112.24 427.1,1111.97 429.1,1111.69 431.1,1111.42 433.1,1111.15 435.1,1110.87 437.1,1110.6 439.1,1110.32 441.1,1110.03 443.1,1109.74 445.1,1109.43 447.1,1109.12 449.1,1108.79 451.1,1108.45 453.1,1108.1 455.1,1107.74 457.1,1107.37 459.1,1107 461.1,1106.62 463.1,1106.25 465.1,1105.87 467.1,1105.49 469.1,1105.11 471.1,1104.73 473.1,1104.35 475.1,1103.97 477.1,1103.59 477.6,1103.5" stroke="#fa6548"/><polyline points="141.1,1134.6 143.1,1134.7 145.1,1134.81 147.1,1134.91 149.1,1135.02 151.1,1135.12 153.1,1135.22 155.1,1135.33 157.1,1135.43 159.1,1135.54 161.1,1135.64 163.1,1135.74 165.1,1135.85 167.1,1135.95 169.1,1136.05 171.1,1136.16 173.1,1136.26 175.1,1136.37 177.1,1136.47 179.1,1136.57 181.1,1136.68 183.1,1136.78 185.1,1136.88 187.1,1136.98 189.1,1137.07 191.1,1137.17 193.1,1137.25 195.1,1137.33 197.1,1137.41 199.1,1137.48 201.1,1137.54 203.1,1137.6 205.1,1137.65 207.1,1137.71 209.1,1137.76 211.1,1137.81 213.1,1137.87 215.1,1137.92 217.1,1137.97 219.1,1138.02 221.1,1138.07 223.1,1138.12 225.1,1138.17 227.1,1138.21 229.1,1138.25 231.1,1138.29 233.1,1138.32 235.1,1138.35 237.1,1138.38 239.1,1138.4 241.1,1138.41 243.1,1138.42 245.1,1138.42 247.1,1138.42 249.1,1138.41 251.1,1138.39 253.1,1138.37 255.1,1138.34 257.1,1138.31 259.1,1138.27 261.1,1138.23 263.1,1138.19 265.1,1138.15 267.1,1138.1 269.1,1138.06 271.1,1138.02 273.1,1137.97 275.1,1137.93 277.1,1137.88 279.1,1137.83 281.1,1137.78 283.1,1137.73 285.1,1137.68 287.1,1137.63 289.1,1137.56 291.1,1137.5 293.1,1137.43 295.1,1137.35 297.1,1137.26 299.1,1137.17 301.1,1137.06 303.1,1136.95 305.1,1136.83 307.1,1136.7 309.1,1136.56 311.1,1136.41 313.1,1136.25 315.1,1136.09 317.1,1135.92 319.1,1135.75 321.1,1135.57 323.1,1135.38 325.1,1135.19 327.1,1135 329.1,1134.8 331.1,1134.59 333.1,1134.38 335.1,1134.16 337.1,1133.93 339.1,1133.7 341.1,1133.46 343.1,1133.21 345.1,1132.96 347.1,1132.69 349.1,1132.43 351.1,1132.15 353.1,1131.87 355.1,1131.59 357.1,1131.29 359.1,1131 361.1,1130.7 363.1,1130.4 365.1,1130.1 367.1,1129.79 369.1,1129.48 371.1,1129.17 373.1,1128.86 375.1,1128.54 377.1,1128.21 379.1,1127.88 381.1,1127.54 383.1,1127.18 385.1,1126.81 387.1,1126.43 389.1,1126.03 391.1,1125.62 393.1,1125.2 395.1,1124.78 397.1,1124.35 399.1,1123.92 401.1,1123.49 403.1,1123.07 405.1,1122.65 407.1,1122.23 409.1,1121.82 411.1,1121.42 413.1,1121.03 415.1,1120.66 417.1,1120.3 419.1,1119.96 421.1,1119.63 423.1,1119.31 425.1,1118.99 427.1,1118.68 429.1,1118.38 431.1,1118.07 433.1,1117.77 435.1,1117.46 437.1,1117.14 439.1,1116.81 441.1,1116.46 443.1,1116.1 445.1,1115.7 447.1,1115.27 449.1,1114.81 451.1,1114.31 453.1,1113.78 455.1,1113.23 457.1,1112.66 459.1,1112.08 461.1,1111.48 463.1,1110.88 465.1,1110.28 467.1,1109.67 469.1,1109.07 471.1,1108.47 473.1,1107.86 475.1,1107.26 477.1,1106.65 477.6,1106.5" stroke="#fc8465"/><polyline points="141.1,1141.3 143.1,1141.43 145.1,1141.57 147.1,1141.7 149.1,1141.83 151.1,1141.97 153.1,1142.1 155.1,1142.24 157.1,1142.37 159.1,1142.5 161.1,1142.64 163.1,1142.77 165.1,1142.9 167.1,1143.04 169.1,1143.17 171.1,1143.3 173.1,1143.44 175.1,1143.57 177.1,1143.7 179.1,1143.84 181.1,1143.97 183.1,1144.11 185.1,1144.24 187.1,1144.37 189.1,1144.51 191.1,1144.64 193.1,1144.78 195.1,1144.92 197.1,1145.05 199.1,1145.19 201.1,1145.33 203.1,1145.47 205.1,1145.61 207.1,1145.75 209.1,1145.89 211.1,1146.03 213.1,1146.17 215.1,1146.31 217.1,1146.45 219.1,1146.58 221.1,1146.72 223.1,1146.86 225.1,1146.99 227.1,1147.12 229.1,1147.25 231.1,1147.37 233.1,1147.49 235.1,1147.61 237.1,1147.71 239.1,1147.82 241.1,1147.91 243.1,1148 245.1,1148.08 247.1,1148.16 249.1,1148.22 251.1,1148.28 253.1,1148.33 255.1,1148.37 257.1,1148.4 259.1,1148.43 261.1,1148.46 263.1,1148.47 265.1,1148.49 267.1,1148.5 269.1,1148.5 271.1,1148.5 273.1,1148.5 275.1,1148.49 277.1,1148.48 279.1,1148.46 281.1,1148.44 283.1,1148.42 285.1,1148.39 287.1,1148.35 289.1,1148.31 291.1,1148.25 293.1,1148.19 295.1,1148.12 297.1,1148.03 299.1,1147.94 301.1,1147.83 303.1,1147.71 305.1,1147.58 307.1,1147.43 309.1,1147.28 311.1,1147.11 313.1,1146.93 315.1,1146.75 317.1,1146.55 319.1,1146.35 321.1,1146.14 323.1,1145.92 325.1,1145.7 327.1,1145.47 329.1,1145.23 331.1,1144.98 333.1,1144.73 335.1,1144.46 337.1,1144.19 339.1,1143.91 341.1,1143.61 343.1,1143.31 345.1,1142.99 347.1,1142.67 349.1,1142.34 351.1,1142 353.1,1141.65 355.1,1141.29 357.1,1140.93 359.1,1140.56 361.1,1140.19 363.1,1139.82 365.1,1139.44 367.1,1139.06 369.1,1138.68 371.1,1138.29 373.1,1137.9 375.1,1137.5 377.1,1137.1 379.1,1136.69 381.1,1136.28 383.1,1135.85 385.1,1135.4 387.1,1134.95 389.1,1134.48 391.1,1133.99 393.1,1133.5 395.1,1133 397.1,1132.5 399.1,1132 401.1,1131.5 403.1,1131 405.1,1130.51 407.1,1130.02 409.1,1129.53 411.1,1129.06 413.1,1128.61 415.1,1128.16 417.1,1127.74 419.1,1127.32 421.1,1126.92 423.1,1126.53 425.1,1126.15 427.1,1125.77 429.1,1125.4 431.1,1125.02 433.1,1124.65 435.1,1124.26 437.1,1123.86 439.1,1123.44 441.1,1122.98 443.1,1122.48 445.1,1121.93 447.1,1121.31 449.1,1120.62 451.1,1119.87 453.1,1119.06 455.1,1118.2 457.1,1117.3 459.1,1116.38 461.1,1115.44 463.1,1114.49 465.1,1113.52 467.1,1112.56 469.1,1111.59 471.1,1110.63 473.1,1109.67 475.1,1108.7 477.1,1107.74 477.6,1107.5" stroke="#fca487"/><polyline points="141.1,1146.6 143.1,1146.82 145.1,1147.04 147.1,1147.26 149.1,1147.48 151.1,1147.69 153.1,1147.91 155.1,1148.13 157.1,1148.35 159.1,1148.57 161.1,1148.79 163.1,1149.01 165.1,1149.23 167.1,1149.45 169.1,1149.66 171.1,1149.88 173.1,1150.1 175.1,1150.32 177.1,1150.54 179.1,1150.76 181.1,1150.98 183.1,1151.2 185.1,1151.42 187.1,1151.64 189.1,1151.87 191.1,1152.09 193.1,1152.32 195.1,1152.55 197.1,1152.79 199.1,1153.03 201.1,1153.27 203.1,1153.51 205.1,1153.76 207.1,1154.01 209.1,1154.25 211.1,1154.5 213.1,1154.75 215.1,1154.99 217.1,1155.24 219.1,1155.49 221.1,1155.73 223.1,1155.97 225.1,1156.21 227.1,1156.45 229.1,1156.68 231.1,1156.91 233.1,1157.14 235.1,1157.35 237.1,1157.57 239.1,1157.77 241.1,1157.97 243.1,1158.15 245.1,1158.33 247.1,1158.5 249.1,1158.66 251.1,1158.81 253.1,1158.94 255.1,1159.07 257.1,1159.19 259.1,1159.3 261.1,1159.39 263.1,1159.48 265.1,1159.56 267.1,1159.63 269.1,1159.7 271.1,1159.75 273.1,1159.8 275.1,1159.83 277.1,1159.86 279.1,1159.88 281.1,1159.9 283.1,1159.9 285.1,1159.9 287.1,1159.89 289.1,1159.86 291.1,1159.83 293.1,1159.78 295.1,1159.73 297.1,1159.66 299.1,1159.57 301.1,1159.48 303.1,1159.37 305.1,1159.24 307.1,1159.11 309.1,1158.96 311.1,1158.79 313.1,1158.62 315.1,1158.43 317.1,1158.23 319.1,1158.03 321.1,1157.81 323.1,1157.58 325.1,1157.35 327.1,1157.1 329.1,1156.84 331.1,1156.56 333.1,1156.27 335.1,1155.96 337.1,1155.63 339.1,1155.29 341.1,1154.93 343.1,1154.55 345.1,1154.15 347.1,1153.74 349.1,1153.31 351.1,1152.86 353.1,1152.41 355.1,1151.94 357.1,1151.46 359.1,1150.97 361.1,1150.47 363.1,1149.97 365.1,1149.46 367.1,1148.95 369.1,1148.44 371.1,1147.92 373.1,1147.4 375.1,1146.87 377.1,1146.34 379.1,1145.8 381.1,1145.25 383.1,1144.7 385.1,1144.13 387.1,1143.54 389.1,1142.95 391.1,1142.34 393.1,1141.73 395.1,1141.11 397.1,1140.49 399.1,1139.86 401.1,1139.24 403.1,1138.63 405.1,1138.02 407.1,1137.42 409.1,1136.83 411.1,1136.26 413.1,1135.71 415.1,1135.19 417.1,1134.7 419.1,1134.23 421.1,1133.78 423.1,1133.35 425.1,1132.94 427.1,1132.53 429.1,1132.13 431.1,1131.72 433.1,1131.32 435.1,1130.9 437.1,1130.45 439.1,1129.97 441.1,1129.44 443.1,1128.83 445.1,1128.13 447.1,1127.33 449.1,1126.42 451.1,1125.4 453.1,1124.29 455.1,1123.09 457.1,1121.84 459.1,1120.55 461.1,1119.23 463.1,1117.88 465.1,1116.51 467.1,1115.15 469.1,1113.79 471.1,1112.43 473.1,1111.06 475.1,1109.7 477.1,1108.34 477.6,1108" stroke="#fbc5ad"/><polyline points="141.1,1151.8 143.1,1152.08 145.1,1152.36 147.1,1152.63 149.1,1152.91 151.1,1153.19 153.1,1153.47 155.1,1153.75 157.1,1154.03 159.1,1154.3 161.1,1154.58 163.1,1154.86 165.1,1155.14 167.1,1155.42 169.1,1155.7 171.1,1155.97 173.1,1156.25 175.1,1156.53 177.1,1156.81 179.1,1157.09 181.1,1157.37 183.1,1157.65 185.1,1157.94 187.1,1158.23 189.1,1158.53 191.1,1158.84 193.1,1159.17 195.1,1159.51 197.1,1159.86 199.1,1160.23 201.1,1160.62 203.1,1161.02 205.1,1161.43 207.1,1161.84 209.1,1162.25 211.1,1162.67 213.1,1163.08 215.1,1163.49 217.1,1163.9 219.1,1164.31 221.1,1164.72 223.1,1165.13 225.1,1165.53 227.1,1165.92 229.1,1166.31 231.1,1166.69 233.1,1167.07 235.1,1167.43 237.1,1167.78 239.1,1168.12 241.1,1168.45 243.1,1168.76 245.1,1169.05 247.1,1169.32 249.1,1169.58 251.1,1169.83 253.1,1170.05 255.1,1170.26 257.1,1170.45 259.1,1170.63 261.1,1170.8 263.1,1170.95 265.1,1171.09 267.1,1171.22 269.1,1171.33 271.1,1171.44 273.1,1171.54 275.1,1171.62 277.1,1171.7 279.1,1171.76 281.1,1171.82 283.1,1171.86 285.1,1171.89 287.1,1171.91 289.1,1171.91 291.1,1171.9 293.1,1171.87 295.1,1171.83 297.1,1171.76 299.1,1171.68 301.1,1171.57 303.1,1171.45 305.1,1171.3 307.1,1171.13 309.1,1170.94 311.1,1170.73 313.1,1170.51 315.1,1170.27 317.1,1170.02 319.1,1169.75 321.1,1169.47 323.1,1169.18 325.1,1168.87 327.1,1168.55 329.1,1168.22 331.1,1167.88 333.1,1167.52 335.1,1167.14 337.1,1166.74 339.1,1166.33 341.1,1165.9 343.1,1165.45 345.1,1164.99 347.1,1164.51 349.1,1164.01 351.1,1163.5 353.1,1162.97 355.1,1162.43 357.1,1161.89 359.1,1161.33 361.1,1160.77 363.1,1160.2 365.1,1159.63 367.1,1159.05 369.1,1158.46 371.1,1157.88 373.1,1157.29 375.1,1156.69 377.1,1156.09 379.1,1155.48 381.1,1154.87 383.1,1154.24 385.1,1153.59 387.1,1152.94 389.1,1152.27 391.1,1151.58 393.1,1150.89 395.1,1150.19 397.1,1149.49 399.1,1148.79 401.1,1148.09 403.1,1147.39 405.1,1146.7 407.1,1146.02 409.1,1145.35 411.1,1144.69 413.1,1144.05 415.1,1143.44 417.1,1142.84 419.1,1142.27 421.1,1141.71 423.1,1141.17 425.1,1140.64 427.1,1140.12 429.1,1139.6 431.1,1139.08 433.1,1138.55 435.1,1138.01 437.1,1137.43 439.1,1136.81 441.1,1136.12 443.1,1135.34 445.1,1134.43 447.1,1133.4 449.1,1132.23 451.1,1130.91 453.1,1129.48 455.1,1127.94 457.1,1126.32 459.1,1124.66 461.1,1122.96 463.1,1121.22 465.1,1119.46 467.1,1117.71 469.1,1115.96 471.1,1114.2 473.1,1112.45 475.1,1110.69 477.1,1108.94 477.6,1108.5" stroke="#dde3ef"/><polyline points="141.1,1155 143.1,1155.42 145.1,1155.83 147.1,1156.25 149.1,1156.66 151.1,1157.08 153.1,1157.49 155.1,1157.91 157.1,1158.32 159.1,1158.74 161.1,1159.16 163.1,1159.57 165.1,1159.99 167.1,1160.4 169.1,1160.82 171.1,1161.23 173.1,1161.65 175.1,1162.06 177.1,1162.48 179.1,1162.9 181.1,1163.32 183.1,1163.74 185.1,1164.16 187.1,1164.59 189.1,1165.04 191.1,1165.49 193.1,1165.96 195.1,1166.45 197.1,1166.96 199.1,1167.49 201.1,1168.03 203.1,1168.6 205.1,1169.17 207.1,1169.74 209.1,1170.31 211.1,1170.89 213.1,1171.46 215.1,1172.04 217.1,1172.61 219.1,1173.19 221.1,1173.76 223.1,1174.33 225.1,1174.89 227.1,1175.44 229.1,1175.99 231.1,1176.53 233.1,1177.06 235.1,1177.58 237.1,1178.08 239.1,1178.57 241.1,1179.04 243.1,1179.49 245.1,1179.92 247.1,1180.33 249.1,1180.72 251.1,1181.09 253.1,1181.44 255.1,1181.77 257.1,1182.09 259.1,1182.38 261.1,1182.66 263.1,1182.92 265.1,1183.17 267.1,1183.4 269.1,1183.62 271.1,1183.83 273.1,1184.02 275.1,1184.2 277.1,1184.37 279.1,1184.53 281.1,1184.67 283.1,1184.8 285.1,1184.91 287.1,1185.01 289.1,1185.09 291.1,1185.15 293.1,1185.19 295.1,1185.2 297.1,1185.19 299.1,1185.16 301.1,1185.09 303.1,1185 305.1,1184.88 307.1,1184.73 309.1,1184.55 311.1,1184.35 313.1,1184.12 315.1,1183.87 317.1,1183.6 319.1,1183.3 321.1,1182.99 323.1,1182.66 325.1,1182.31 327.1,1181.94 329.1,1181.55 331.1,1181.14 333.1,1180.71 335.1,1180.26 337.1,1179.79 339.1,1179.29 341.1,1178.77 343.1,1178.22 345.1,1177.66 347.1,1177.07 349.1,1176.46 351.1,1175.83 353.1,1175.19 355.1,1174.54 357.1,1173.87 359.1,1173.18 361.1,1172.5 363.1,1171.8 365.1,1171.1 367.1,1170.39 369.1,1169.67 371.1,1168.96 373.1,1168.23 375.1,1167.5 377.1,1166.76 379.1,1166.01 381.1,1165.25 383.1,1164.47 385.1,1163.68 387.1,1162.86 389.1,1162.03 391.1,1161.18 393.1,1160.31 395.1,1159.44 397.1,1158.56 399.1,1157.69 401.1,1156.81 403.1,1155.94 405.1,1155.08 407.1,1154.23 409.1,1153.39 411.1,1152.57 413.1,1151.78 415.1,1151.02 417.1,1150.28 419.1,1149.58 421.1,1148.9 423.1,1148.24 425.1,1147.59 427.1,1146.95 429.1,1146.32 431.1,1145.69 433.1,1145.04 435.1,1144.38 437.1,1143.67 439.1,1142.9 441.1,1142.04 443.1,1141.06 445.1,1139.92 447.1,1138.61 449.1,1137.11 451.1,1135.43 453.1,1133.58 455.1,1131.6 457.1,1129.52 459.1,1127.37 461.1,1125.17 463.1,1122.93 465.1,1120.66 467.1,1118.4 469.1,1116.13 471.1,1113.86 473.1,1111.6 475.1,1109.33 477.1,1107.07 477.6,1106.5" stroke="#d0e0f2"/><polyline points="141.1,1157 143.1,1157.57 145.1,1158.14 147.1,1158.71 149.1,1159.29 151.1,1159.86 153.1,1160.43 155.1,1161 157.1,1161.57 159.1,1162.14 161.1,1162.71 163.1,1163.29 165.1,1163.86 167.1,1164.43 169.1,1165 171.1,1165.57 173.1,1166.14 175.1,1166.71 177.1,1167.29 179.1,1167.86 181.1,1168.43 183.1,1169.01 185.1,1169.6 187.1,1170.19 189.1,1170.8 191.1,1171.43 193.1,1172.07 195.1,1172.75 197.1,1173.44 199.1,1174.17 201.1,1174.92 203.1,1175.69 205.1,1176.47 207.1,1177.26 209.1,1178.05 211.1,1178.84 213.1,1179.63 215.1,1180.41 217.1,1181.2 219.1,1181.99 221.1,1182.78 223.1,1183.56 225.1,1184.33 227.1,1185.1 229.1,1185.86 231.1,1186.61 233.1,1187.34 235.1,1188.07 237.1,1188.78 239.1,1189.46 241.1,1190.13 243.1,1190.78 245.1,1191.4 247.1,1192 249.1,1192.58 251.1,1193.13 253.1,1193.65 255.1,1194.15 257.1,1194.63 259.1,1195.09 261.1,1195.52 263.1,1195.93 265.1,1196.33 267.1,1196.7 269.1,1197.05 271.1,1197.39 273.1,1197.7 275.1,1198 277.1,1198.28 279.1,1198.55 281.1,1198.79 283.1,1199.01 285.1,1199.22 287.1,1199.4 289.1,1199.56 291.1,1199.7 293.1,1199.81 295.1,1199.89 297.1,1199.94 299.1,1199.95 301.1,1199.93 303.1,1199.88 305.1,1199.79 307.1,1199.66 309.1,1199.5 311.1,1199.3 313.1,1199.07 315.1,1198.81 317.1,1198.52 319.1,1198.21 321.1,1197.86 323.1,1197.49 325.1,1197.09 327.1,1196.67 329.1,1196.22 331.1,1195.75 333.1,1195.24 335.1,1194.71 337.1,1194.15 339.1,1193.56 341.1,1192.94 343.1,1192.29 345.1,1191.62 347.1,1190.92 349.1,1190.19 351.1,1189.45 353.1,1188.68 355.1,1187.9 357.1,1187.1 359.1,1186.29 361.1,1185.47 363.1,1184.64 365.1,1183.81 367.1,1182.96 369.1,1182.11 371.1,1181.25 373.1,1180.38 375.1,1179.51 377.1,1178.63 379.1,1177.73 381.1,1176.81 383.1,1175.87 385.1,1174.9 387.1,1173.91 389.1,1172.9 391.1,1171.86 393.1,1170.79 395.1,1169.73 397.1,1168.65 399.1,1167.58 401.1,1166.5 403.1,1165.42 405.1,1164.35 407.1,1163.28 409.1,1162.21 411.1,1161.14 413.1,1160.09 415.1,1159.04 417.1,1157.99 419.1,1156.96 421.1,1155.93 423.1,1154.9 425.1,1153.88 427.1,1152.86 429.1,1151.84 431.1,1150.82 433.1,1149.78 435.1,1148.73 437.1,1147.64 439.1,1146.51 441.1,1145.29 443.1,1143.97 445.1,1142.52 447.1,1140.93 449.1,1139.18 451.1,1137.28 453.1,1135.24 455.1,1133.08 457.1,1130.84 459.1,1128.55 461.1,1126.22 463.1,1123.84 465.1,1121.45 467.1,1119.06 469.1,1116.67 471.1,1114.27 473.1,1111.88 475.1,1109.49 477.1,1107.1 477.6,1106.5" stroke="#c2d8ee"/><polyline points="141.1,1159 143.1,1159.73 145.1,1160.45 147.1,1161.18 149.1,1161.91 151.1,1162.64 153.1,1163.36 155.1,1164.09 157.1,1164.82 159.1,1165.55 161.1,1166.27 163.1,1167 165.1,1167.73 167.1,1168.45 169.1,1169.18 171.1,1169.91 173.1,1170.64 175.1,1171.36 177.1,1172.09 179.1,1172.82 181.1,1173.55 183.1,1174.29 185.1,1175.04 187.1,1175.8 189.1,1176.59 191.1,1177.4 193.1,1178.24 195.1,1179.12 197.1,1180.04 199.1,1181 201.1,1182.01 203.1,1183.04 205.1,1184.09 207.1,1185.15 209.1,1186.21 211.1,1187.27 213.1,1188.33 215.1,1189.4 217.1,1190.46 219.1,1191.52 221.1,1192.57 223.1,1193.62 225.1,1194.67 227.1,1195.7 229.1,1196.71 231.1,1197.71 233.1,1198.7 235.1,1199.67 237.1,1200.61 239.1,1201.53 241.1,1202.41 243.1,1203.27 245.1,1204.09 247.1,1204.88 249.1,1205.63 251.1,1206.35 253.1,1207.04 255.1,1207.69 257.1,1208.32 259.1,1208.91 261.1,1209.48 263.1,1210.03 265.1,1210.55 267.1,1211.04 269.1,1211.52 271.1,1211.98 273.1,1212.42 275.1,1212.83 277.1,1213.23 279.1,1213.61 281.1,1213.98 283.1,1214.32 285.1,1214.63 287.1,1214.93 289.1,1215.19 291.1,1215.43 293.1,1215.63 295.1,1215.8 297.1,1215.93 299.1,1216.02 301.1,1216.07 303.1,1216.07 305.1,1216.03 307.1,1215.93 309.1,1215.8 311.1,1215.62 313.1,1215.4 315.1,1215.14 317.1,1214.83 319.1,1214.5 321.1,1214.12 323.1,1213.71 325.1,1213.26 327.1,1212.78 329.1,1212.27 331.1,1211.72 333.1,1211.14 335.1,1210.51 337.1,1209.85 339.1,1209.16 341.1,1208.43 343.1,1207.66 345.1,1206.86 347.1,1206.03 349.1,1205.17 351.1,1204.28 353.1,1203.37 355.1,1202.44 357.1,1201.49 359.1,1200.52 361.1,1199.54 363.1,1198.55 365.1,1197.55 367.1,1196.54 369.1,1195.52 371.1,1194.49 373.1,1193.45 375.1,1192.4 377.1,1191.34 379.1,1190.25 381.1,1189.14 383.1,1188 385.1,1186.82 387.1,1185.61 389.1,1184.37 391.1,1183.08 393.1,1181.77 395.1,1180.45 397.1,1179.13 399.1,1177.8 401.1,1176.46 403.1,1175.13 405.1,1173.79 407.1,1172.45 409.1,1171.11 411.1,1169.76 413.1,1168.41 415.1,1167.04 417.1,1165.67 419.1,1164.3 421.1,1162.92 423.1,1161.53 425.1,1160.14 427.1,1158.75 429.1,1157.35 431.1,1155.95 433.1,1154.54 435.1,1153.11 437.1,1151.66 439.1,1150.16 441.1,1148.61 443.1,1146.97 445.1,1145.23 447.1,1143.37 449.1,1141.39 451.1,1139.28 453.1,1137.07 455.1,1134.77 457.1,1132.4 459.1,1129.99 461.1,1127.54 463.1,1125.06 465.1,1122.57 467.1,1120.08 469.1,1117.59 471.1,1115.1 473.1,1112.61 475.1,1110.11 477.1,1107.62 477.6,1107" stroke="#a8cce6"/><polyline points="141.1,1161 143.1,1161.91 145.1,1162.82 147.1,1163.73 149.1,1164.64 151.1,1165.55 153.1,1166.45 155.1,1167.36 157.1,1168.27 159.1,1169.18 161.1,1170.09 163.1,1171 165.1,1171.91 167.1,1172.82 169.1,1173.73 171.1,1174.64 173.1,1175.55 175.1,1176.45 177.1,1177.36 179.1,1178.28 181.1,1179.19 183.1,1180.12 185.1,1181.05 187.1,1182 189.1,1182.98 191.1,1184 193.1,1185.05 195.1,1186.16 197.1,1187.31 199.1,1188.51 201.1,1189.77 203.1,1191.07 205.1,1192.39 207.1,1193.71 209.1,1195.04 211.1,1196.37 213.1,1197.7 215.1,1199.04 217.1,1200.37 219.1,1201.7 221.1,1203.02 223.1,1204.34 225.1,1205.65 227.1,1206.94 229.1,1208.22 231.1,1209.47 233.1,1210.72 235.1,1211.94 237.1,1213.13 239.1,1214.28 241.1,1215.4 243.1,1216.49 245.1,1217.53 247.1,1218.53 249.1,1219.5 251.1,1220.42 253.1,1221.3 255.1,1222.14 257.1,1222.95 259.1,1223.72 261.1,1224.46 263.1,1225.16 265.1,1225.84 267.1,1226.5 269.1,1227.12 271.1,1227.72 273.1,1228.3 275.1,1228.86 277.1,1229.39 279.1,1229.9 281.1,1230.39 283.1,1230.85 285.1,1231.28 287.1,1231.69 289.1,1232.06 291.1,1232.4 293.1,1232.71 295.1,1232.97 297.1,1233.18 299.1,1233.34 301.1,1233.46 303.1,1233.51 305.1,1233.52 307.1,1233.46 309.1,1233.35 311.1,1233.18 313.1,1232.96 315.1,1232.68 317.1,1232.36 319.1,1231.98 321.1,1231.55 323.1,1231.08 325.1,1230.56 327.1,1230 329.1,1229.39 331.1,1228.74 333.1,1228.05 335.1,1227.31 337.1,1226.54 339.1,1225.72 341.1,1224.86 343.1,1223.97 345.1,1223.04 347.1,1222.08 349.1,1221.09 351.1,1220.08 353.1,1219.03 355.1,1217.97 357.1,1216.88 359.1,1215.78 361.1,1214.66 363.1,1213.53 365.1,1212.39 367.1,1211.23 369.1,1210.07 371.1,1208.89 373.1,1207.7 375.1,1206.49 377.1,1205.26 379.1,1204 381.1,1202.69 383.1,1201.33 385.1,1199.92 387.1,1198.45 389.1,1196.92 391.1,1195.34 393.1,1193.71 395.1,1192.06 397.1,1190.41 399.1,1188.75 401.1,1187.08 403.1,1185.41 405.1,1183.73 407.1,1182.05 409.1,1180.36 411.1,1178.66 413.1,1176.94 415.1,1175.21 417.1,1173.46 419.1,1171.69 421.1,1169.91 423.1,1168.12 425.1,1166.32 427.1,1164.51 429.1,1162.7 431.1,1160.88 433.1,1159.06 435.1,1157.22 437.1,1155.37 439.1,1153.49 441.1,1151.56 443.1,1149.58 445.1,1147.53 447.1,1145.41 449.1,1143.19 451.1,1140.9 453.1,1138.53 455.1,1136.1 457.1,1133.63 459.1,1131.12 461.1,1128.6 463.1,1126.05 465.1,1123.49 467.1,1120.93 469.1,1118.37 471.1,1115.81 473.1,1113.26 475.1,1110.7 477.1,1108.14 477.6,1107.5" stroke="#90bfe0"/><polyline points="141.1,1163 143.1,1164.09 145.1,1165.17 147.1,1166.26 149.1,1167.35 151.1,1168.44 153.1,1169.52 155.1,1170.61 157.1,1171.7 159.1,1172.78 161.1,1173.87 163.1,1174.96 165.1,1176.05 167.1,1177.13 169.1,1178.22 171.1,1179.31 173.1,1180.4 175.1,1181.48 177.1,1182.57 179.1,1183.66 181.1,1184.76 183.1,1185.86 185.1,1186.98 187.1,1188.12 189.1,1189.3 191.1,1190.51 193.1,1191.78 195.1,1193.11 197.1,1194.5 199.1,1195.95 201.1,1197.47 203.1,1199.03 205.1,1200.62 207.1,1202.22 209.1,1203.83 211.1,1205.44 213.1,1207.05 215.1,1208.66 217.1,1210.27 219.1,1211.87 221.1,1213.47 223.1,1215.07 225.1,1216.65 227.1,1218.22 229.1,1219.77 231.1,1221.3 233.1,1222.81 235.1,1224.3 237.1,1225.75 239.1,1227.17 241.1,1228.55 243.1,1229.88 245.1,1231.18 247.1,1232.42 249.1,1233.63 251.1,1234.78 253.1,1235.9 255.1,1236.97 257.1,1238 259.1,1238.99 261.1,1239.94 263.1,1240.86 265.1,1241.75 267.1,1242.61 269.1,1243.44 271.1,1244.24 273.1,1245.01 275.1,1245.76 277.1,1246.48 279.1,1247.17 281.1,1247.83 283.1,1248.46 285.1,1249.06 287.1,1249.62 289.1,1250.14 291.1,1250.61 293.1,1251.04 295.1,1251.4 297.1,1251.71 299.1,1251.95 301.1,1252.12 303.1,1252.22 305.1,1252.25 307.1,1252.21 309.1,1252.09 311.1,1251.91 313.1,1251.66 315.1,1251.34 317.1,1250.97 319.1,1250.53 321.1,1250.04 323.1,1249.5 325.1,1248.92 327.1,1248.28 329.1,1247.59 331.1,1246.86 333.1,1246.08 335.1,1245.26 337.1,1244.39 339.1,1243.48 341.1,1242.53 343.1,1241.53 345.1,1240.5 347.1,1239.42 349.1,1238.32 351.1,1237.18 353.1,1236.02 355.1,1234.82 357.1,1233.61 359.1,1232.37 361.1,1231.11 363.1,1229.84 365.1,1228.55 367.1,1227.25 369.1,1225.93 371.1,1224.6 373.1,1223.25 375.1,1221.87 377.1,1220.46 379.1,1219 381.1,1217.48 383.1,1215.88 385.1,1214.21 387.1,1212.45 389.1,1210.61 391.1,1208.69 393.1,1206.7 395.1,1204.69 397.1,1202.67 399.1,1200.63 401.1,1198.59 403.1,1196.54 405.1,1194.48 407.1,1192.42 409.1,1190.34 411.1,1188.24 413.1,1186.12 415.1,1183.98 417.1,1181.8 419.1,1179.61 421.1,1177.39 423.1,1175.16 425.1,1172.91 427.1,1170.65 429.1,1168.39 431.1,1166.12 433.1,1163.84 435.1,1161.56 437.1,1159.27 439.1,1156.97 441.1,1154.65 443.1,1152.3 445.1,1149.92 447.1,1147.5 449.1,1145.04 451.1,1142.54 453.1,1140.01 455.1,1137.44 457.1,1134.86 459.1,1132.26 461.1,1129.65 463.1,1127.03 465.1,1124.4 467.1,1121.78 469.1,1119.15 471.1,1116.53 473.1,1113.91 475.1,1111.28 477.1,1108.66 477.6,1108" stroke="#74b0d9"/><polyline points="141.1,1166 143.1,1167.26 145.1,1168.52 147.1,1169.77 149.1,1171.03 151.1,1172.29 153.1,1173.55 155.1,1174.81 157.1,1176.06 159.1,1177.32 161.1,1178.58 163.1,1179.84 165.1,1181.09 167.1,1182.35 169.1,1183.61 171.1,1184.87 173.1,1186.13 175.1,1187.38 177.1,1188.64 179.1,1189.91 181.1,1191.18 183.1,1192.46 185.1,1193.75 187.1,1195.08 189.1,1196.45 191.1,1197.88 193.1,1199.37 195.1,1200.94 197.1,1202.59 199.1,1204.31 201.1,1206.13 203.1,1208.01 205.1,1209.91 207.1,1211.84 209.1,1213.77 211.1,1215.7 213.1,1217.63 215.1,1219.57 217.1,1221.5 219.1,1223.43 221.1,1225.35 223.1,1227.26 225.1,1229.16 227.1,1231.04 229.1,1232.89 231.1,1234.72 233.1,1236.53 235.1,1238.3 237.1,1240.03 239.1,1241.71 241.1,1243.34 243.1,1244.92 245.1,1246.44 247.1,1247.9 249.1,1249.3 251.1,1250.65 253.1,1251.94 255.1,1253.18 257.1,1254.37 259.1,1255.52 261.1,1256.63 263.1,1257.7 265.1,1258.73 267.1,1259.73 269.1,1260.71 271.1,1261.65 273.1,1262.57 275.1,1263.46 277.1,1264.33 279.1,1265.17 281.1,1265.99 283.1,1266.77 285.1,1267.51 287.1,1268.22 289.1,1268.88 291.1,1269.49 293.1,1270.04 295.1,1270.52 297.1,1270.94 299.1,1271.28 301.1,1271.54 303.1,1271.72 305.1,1271.81 307.1,1271.81 309.1,1271.73 311.1,1271.56 313.1,1271.32 315.1,1270.99 317.1,1270.58 319.1,1270.11 321.1,1269.56 323.1,1268.96 325.1,1268.29 327.1,1267.56 329.1,1266.77 331.1,1265.93 333.1,1265.04 335.1,1264.1 337.1,1263.11 339.1,1262.07 341.1,1260.98 343.1,1259.86 345.1,1258.69 347.1,1257.49 349.1,1256.25 351.1,1254.98 353.1,1253.68 355.1,1252.35 357.1,1251 359.1,1249.62 361.1,1248.23 363.1,1246.82 365.1,1245.38 367.1,1243.93 369.1,1242.47 371.1,1240.98 373.1,1239.47 375.1,1237.93 377.1,1236.34 379.1,1234.69 381.1,1232.96 383.1,1231.13 385.1,1229.2 387.1,1227.15 389.1,1225 391.1,1222.74 393.1,1220.4 395.1,1218.02 397.1,1215.63 399.1,1213.22 401.1,1210.8 403.1,1208.37 405.1,1205.93 407.1,1203.48 409.1,1201 411.1,1198.5 413.1,1195.96 415.1,1193.38 417.1,1190.77 419.1,1188.11 421.1,1185.43 423.1,1182.71 425.1,1179.98 427.1,1177.23 429.1,1174.47 431.1,1171.71 433.1,1168.94 435.1,1166.17 437.1,1163.41 439.1,1160.65 441.1,1157.89 443.1,1155.14 445.1,1152.39 447.1,1149.65 449.1,1146.93 451.1,1144.21 453.1,1141.5 455.1,1138.79 457.1,1136.09 459.1,1133.4 461.1,1130.7 463.1,1128.01 465.1,1125.32 467.1,1122.63 469.1,1119.94 471.1,1117.25 473.1,1114.55 475.1,1111.86 477.1,1109.17 477.6,1108.5" stroke="#5aa0d0"/><polyline points="141.1,1170.7 143.1,1172.09 145.1,1173.48 147.1,1174.86 149.1,1176.25 151.1,1177.64 153.1,1179.03 155.1,1180.41 157.1,1181.8 159.1,1183.19 161.1,1184.58 163.1,1185.97 165.1,1187.35 167.1,1188.74 169.1,1190.13 171.1,1191.52 173.1,1192.9 175.1,1194.29 177.1,1195.68 179.1,1197.08 181.1,1198.48 183.1,1199.89 185.1,1201.33 187.1,1202.81 189.1,1204.34 191.1,1205.93 193.1,1207.62 195.1,1209.39 197.1,1211.27 199.1,1213.24 201.1,1215.32 203.1,1217.49 205.1,1219.69 207.1,1221.91 209.1,1224.14 211.1,1226.37 213.1,1228.6 215.1,1230.83 217.1,1233.06 219.1,1235.29 221.1,1237.51 223.1,1239.72 225.1,1241.91 227.1,1244.08 229.1,1246.21 231.1,1248.32 233.1,1250.4 235.1,1252.43 237.1,1254.41 239.1,1256.34 241.1,1258.2 243.1,1260 245.1,1261.73 247.1,1263.39 249.1,1264.98 251.1,1266.5 253.1,1267.95 255.1,1269.34 257.1,1270.68 259.1,1271.96 261.1,1273.19 263.1,1274.38 265.1,1275.53 267.1,1276.64 269.1,1277.72 271.1,1278.77 273.1,1279.79 275.1,1280.78 277.1,1281.75 279.1,1282.69 281.1,1283.59 283.1,1284.47 285.1,1285.31 287.1,1286.1 289.1,1286.85 291.1,1287.55 293.1,1288.18 295.1,1288.75 297.1,1289.24 299.1,1289.66 301.1,1289.98 303.1,1290.22 305.1,1290.36 307.1,1290.4 309.1,1290.35 311.1,1290.2 313.1,1289.95 315.1,1289.61 317.1,1289.18 319.1,1288.67 321.1,1288.07 323.1,1287.39 325.1,1286.64 327.1,1285.82 329.1,1284.94 331.1,1283.99 333.1,1282.99 335.1,1281.94 337.1,1280.84 339.1,1279.7 341.1,1278.52 343.1,1277.29 345.1,1276.04 347.1,1274.76 349.1,1273.44 351.1,1272.1 353.1,1270.74 355.1,1269.35 357.1,1267.94 359.1,1266.51 361.1,1265.05 363.1,1263.58 365.1,1262.09 367.1,1260.58 369.1,1259.05 371.1,1257.5 373.1,1255.92 375.1,1254.29 377.1,1252.6 379.1,1250.83 381.1,1248.95 383.1,1246.95 385.1,1244.79 387.1,1242.5 389.1,1240.07 391.1,1237.48 393.1,1234.79 395.1,1232.05 397.1,1229.28 399.1,1226.5 401.1,1223.7 403.1,1220.9 405.1,1218.07 407.1,1215.23 409.1,1212.36 411.1,1209.45 413.1,1206.49 415.1,1203.47 417.1,1200.41 419.1,1197.29 421.1,1194.12 423.1,1190.92 425.1,1187.68 427.1,1184.43 429.1,1181.17 431.1,1177.9 433.1,1174.62 435.1,1171.36 437.1,1168.1 439.1,1164.87 441.1,1161.66 443.1,1158.49 445.1,1155.36 447.1,1152.29 449.1,1149.27 451.1,1146.3 453.1,1143.39 455.1,1140.51 457.1,1137.67 459.1,1134.84 461.1,1132.03 463.1,1129.23 465.1,1126.44 467.1,1123.65 469.1,1120.86 471.1,1118.07 473.1,1115.28 475.1,1112.49 477.1,1109.7 477.6,1109" stroke="#428fc6"/><polyline points="141.1,1174 143.1,1175.57 145.1,1177.15 147.1,1178.72 149.1,1180.29 151.1,1181.87 153.1,1183.44 155.1,1185.01 157.1,1186.59 159.1,1188.16 161.1,1189.73 163.1,1191.31 165.1,1192.88 167.1,1194.45 169.1,1196.03 171.1,1197.6 173.1,1199.17 175.1,1200.75 177.1,1202.32 179.1,1203.9 181.1,1205.49 183.1,1207.09 185.1,1208.72 187.1,1210.39 189.1,1212.12 191.1,1213.93 193.1,1215.82 195.1,1217.83 197.1,1219.94 199.1,1222.15 201.1,1224.49 203.1,1226.92 205.1,1229.38 207.1,1231.87 209.1,1234.37 211.1,1236.87 213.1,1239.37 215.1,1241.87 217.1,1244.37 219.1,1246.87 221.1,1249.36 223.1,1251.83 225.1,1254.29 227.1,1256.71 229.1,1259.1 231.1,1261.45 233.1,1263.78 235.1,1266.05 237.1,1268.27 239.1,1270.42 241.1,1272.5 243.1,1274.5 245.1,1276.42 247.1,1278.26 249.1,1280.02 251.1,1281.7 253.1,1283.3 255.1,1284.82 257.1,1286.28 259.1,1287.67 261.1,1288.99 263.1,1290.27 265.1,1291.49 267.1,1292.66 269.1,1293.79 271.1,1294.88 273.1,1295.93 275.1,1296.94 277.1,1297.92 279.1,1298.86 281.1,1299.76 283.1,1300.63 285.1,1301.45 287.1,1302.23 289.1,1302.97 291.1,1303.65 293.1,1304.27 295.1,1304.83 297.1,1305.31 299.1,1305.72 301.1,1306.04 303.1,1306.28 305.1,1306.42 307.1,1306.47 309.1,1306.41 311.1,1306.26 313.1,1306.01 315.1,1305.66 317.1,1305.21 319.1,1304.67 321.1,1304.04 323.1,1303.32 325.1,1302.52 327.1,1301.65 329.1,1300.71 331.1,1299.7 333.1,1298.64 335.1,1297.52 337.1,1296.36 339.1,1295.15 341.1,1293.91 343.1,1292.64 345.1,1291.34 347.1,1290.01 349.1,1288.66 351.1,1287.29 353.1,1285.9 355.1,1284.49 357.1,1283.06 359.1,1281.61 361.1,1280.14 363.1,1278.65 365.1,1277.14 367.1,1275.61 369.1,1274.06 371.1,1272.48 373.1,1270.87 375.1,1269.21 377.1,1267.47 379.1,1265.64 381.1,1263.68 383.1,1261.56 385.1,1259.28 387.1,1256.82 389.1,1254.21 391.1,1251.41 393.1,1248.49 395.1,1245.51 397.1,1242.5 399.1,1239.47 401.1,1236.42 403.1,1233.36 405.1,1230.27 407.1,1227.16 409.1,1224 411.1,1220.78 413.1,1217.49 415.1,1214.12 417.1,1210.67 419.1,1207.13 421.1,1203.53 423.1,1199.87 425.1,1196.17 427.1,1192.44 429.1,1188.69 431.1,1184.93 433.1,1181.18 435.1,1177.43 437.1,1173.7 439.1,1170 441.1,1166.34 443.1,1162.75 445.1,1159.23 447.1,1155.8 449.1,1152.47 451.1,1149.22 453.1,1146.06 455.1,1142.96 457.1,1139.91 459.1,1136.89 461.1,1133.9 463.1,1130.94 465.1,1127.98 467.1,1125.02 469.1,1122.07 471.1,1119.11 473.1,1116.15 475.1,1113.2 477.1,1110.24 477.6,1109.5" stroke="#3080bd"/><polyline points="141.1,1178.5 143.1,1180.24 145.1,1181.97 147.1,1183.71 149.1,1185.45 151.1,1187.18 153.1,1188.92 155.1,1190.66 157.1,1192.39 159.1,1194.13 161.1,1195.87 163.1,1197.6 165.1,1199.34 167.1,1201.08 169.1,1202.81 171.1,1204.55 173.1,1206.28 175.1,1208.02 177.1,1209.76 179.1,1211.5 181.1,1213.26 183.1,1215.02 185.1,1216.82 187.1,1218.65 189.1,1220.54 191.1,1222.51 193.1,1224.57 195.1,1226.74 197.1,1229.02 199.1,1231.4 201.1,1233.9 203.1,1236.5 205.1,1239.13 207.1,1241.79 209.1,1244.45 211.1,1247.12 213.1,1249.79 215.1,1252.46 217.1,1255.13 219.1,1257.79 221.1,1260.44 223.1,1263.08 225.1,1265.69 227.1,1268.27 229.1,1270.81 231.1,1273.31 233.1,1275.78 235.1,1278.18 237.1,1280.53 239.1,1282.79 241.1,1284.98 243.1,1287.08 245.1,1289.09 247.1,1291 249.1,1292.83 251.1,1294.56 253.1,1296.2 255.1,1297.75 257.1,1299.23 259.1,1300.63 261.1,1301.96 263.1,1303.22 265.1,1304.43 267.1,1305.58 269.1,1306.68 271.1,1307.73 273.1,1308.73 275.1,1309.69 277.1,1310.62 279.1,1311.5 281.1,1312.35 283.1,1313.16 285.1,1313.93 287.1,1314.65 289.1,1315.34 291.1,1315.98 293.1,1316.57 295.1,1317.1 297.1,1317.58 299.1,1317.98 301.1,1318.31 303.1,1318.56 305.1,1318.73 307.1,1318.81 309.1,1318.79 311.1,1318.68 313.1,1318.47 315.1,1318.16 317.1,1317.76 319.1,1317.25 321.1,1316.65 323.1,1315.95 325.1,1315.17 327.1,1314.3 329.1,1313.36 331.1,1312.36 333.1,1311.29 335.1,1310.16 337.1,1308.99 339.1,1307.78 341.1,1306.54 343.1,1305.26 345.1,1303.96 347.1,1302.64 349.1,1301.3 351.1,1299.95 353.1,1298.57 355.1,1297.18 357.1,1295.77 359.1,1294.34 361.1,1292.89 363.1,1291.42 365.1,1289.94 367.1,1288.43 369.1,1286.9 371.1,1285.35 373.1,1283.75 375.1,1282.1 377.1,1280.38 379.1,1278.55 381.1,1276.58 383.1,1274.45 385.1,1272.14 387.1,1269.64 389.1,1266.97 391.1,1264.11 393.1,1261.11 395.1,1258.05 397.1,1254.96 399.1,1251.84 401.1,1248.71 403.1,1245.55 405.1,1242.36 407.1,1239.12 409.1,1235.83 411.1,1232.44 413.1,1228.96 415.1,1225.36 417.1,1221.64 419.1,1217.81 421.1,1213.88 423.1,1209.86 425.1,1205.78 427.1,1201.66 429.1,1197.52 431.1,1193.36 433.1,1189.2 435.1,1185.05 437.1,1180.92 439.1,1176.82 441.1,1172.78 443.1,1168.8 445.1,1164.91 447.1,1161.12 449.1,1157.43 451.1,1153.84 453.1,1150.34 455.1,1146.92 457.1,1143.56 459.1,1140.23 461.1,1136.93 463.1,1133.65 465.1,1130.39 467.1,1127.13 469.1,1123.87 471.1,1120.6 473.1,1117.34 475.1,1114.08 477.1,1110.82 477.6,1110" stroke="#2171b5"/><polyline points="141.1,1187 143.1,1188.78 145.1,1190.56 147.1,1192.34 149.1,1194.12 151.1,1195.91 153.1,1197.69 155.1,1199.47 157.1,1201.25 159.1,1203.03 161.1,1204.81 163.1,1206.59 165.1,1208.37 167.1,1210.15 169.1,1211.94 171.1,1213.72 173.1,1215.5 175.1,1217.28 177.1,1219.06 179.1,1220.85 181.1,1222.64 183.1,1224.45 185.1,1226.29 187.1,1228.16 189.1,1230.09 191.1,1232.09 193.1,1234.18 195.1,1236.37 197.1,1238.67 199.1,1241.06 201.1,1243.57 203.1,1246.17 205.1,1248.8 207.1,1251.45 209.1,1254.12 211.1,1256.78 213.1,1259.45 215.1,1262.12 217.1,1264.78 219.1,1267.44 221.1,1270.09 223.1,1272.72 225.1,1275.34 227.1,1277.92 229.1,1280.46 231.1,1282.97 233.1,1285.44 235.1,1287.85 237.1,1290.2 239.1,1292.48 241.1,1294.68 243.1,1296.8 245.1,1298.83 247.1,1300.77 249.1,1302.61 251.1,1304.36 253.1,1306.02 255.1,1307.59 257.1,1309.08 259.1,1310.49 261.1,1311.81 263.1,1313.07 265.1,1314.25 267.1,1315.36 269.1,1316.41 271.1,1317.4 273.1,1318.33 275.1,1319.21 277.1,1320.04 279.1,1320.82 281.1,1321.55 283.1,1322.24 285.1,1322.89 287.1,1323.49 289.1,1324.06 291.1,1324.59 293.1,1325.07 295.1,1325.5 297.1,1325.89 299.1,1326.22 301.1,1326.49 303.1,1326.7 305.1,1326.85 307.1,1326.92 309.1,1326.91 311.1,1326.82 313.1,1326.65 315.1,1326.39 317.1,1326.05 319.1,1325.61 321.1,1325.09 323.1,1324.49 325.1,1323.8 327.1,1323.03 329.1,1322.19 331.1,1321.28 333.1,1320.31 335.1,1319.28 337.1,1318.2 339.1,1317.08 341.1,1315.92 343.1,1314.72 345.1,1313.49 347.1,1312.24 349.1,1310.96 351.1,1309.66 353.1,1308.34 355.1,1306.99 357.1,1305.63 359.1,1304.24 361.1,1302.83 363.1,1301.41 365.1,1299.96 367.1,1298.5 369.1,1297.01 371.1,1295.49 373.1,1293.93 375.1,1292.33 377.1,1290.65 379.1,1288.86 381.1,1286.94 383.1,1284.87 385.1,1282.61 387.1,1280.18 389.1,1277.59 391.1,1274.8 393.1,1271.88 395.1,1268.91 397.1,1265.9 399.1,1262.87 401.1,1259.81 403.1,1256.72 405.1,1253.6 407.1,1250.42 409.1,1247.16 411.1,1243.79 413.1,1240.28 415.1,1236.63 417.1,1232.83 419.1,1228.87 421.1,1224.79 423.1,1220.6 425.1,1216.33 427.1,1212.01 429.1,1207.65 431.1,1203.27 433.1,1198.89 435.1,1194.51 437.1,1190.14 439.1,1185.8 441.1,1181.49 443.1,1177.23 445.1,1173.03 447.1,1168.89 449.1,1164.83 451.1,1160.84 453.1,1156.91 455.1,1153.03 457.1,1149.2 459.1,1145.38 461.1,1141.59 463.1,1137.81 465.1,1134.05 467.1,1130.28 469.1,1126.51 471.1,1122.74 473.1,1118.98 475.1,1115.21 477.1,1111.44 477.6,1110.5" stroke="#1865ab"/><polyline points="141.1,1196.4 143.1,1198.24 145.1,1200.08 147.1,1201.92 149.1,1203.76 151.1,1205.6 153.1,1207.44 155.1,1209.28 157.1,1211.12 159.1,1212.96 161.1,1214.8 163.1,1216.64 165.1,1218.49 167.1,1220.33 169.1,1222.17 171.1,1224.01 173.1,1225.85 175.1,1227.69 177.1,1229.53 179.1,1231.38 181.1,1233.23 183.1,1235.09 185.1,1236.98 187.1,1238.89 189.1,1240.85 191.1,1242.87 193.1,1244.97 195.1,1247.14 197.1,1249.4 199.1,1251.74 201.1,1254.18 203.1,1256.68 205.1,1259.22 207.1,1261.77 209.1,1264.33 211.1,1266.89 213.1,1269.46 215.1,1272.02 217.1,1274.58 219.1,1277.13 221.1,1279.68 223.1,1282.21 225.1,1284.72 227.1,1287.2 229.1,1289.63 231.1,1292.04 233.1,1294.41 235.1,1296.73 237.1,1298.99 239.1,1301.17 241.1,1303.28 243.1,1305.31 245.1,1307.25 247.1,1309.11 249.1,1310.87 251.1,1312.55 253.1,1314.13 255.1,1315.63 257.1,1317.04 259.1,1318.37 261.1,1319.62 263.1,1320.79 265.1,1321.89 267.1,1322.92 269.1,1323.88 271.1,1324.78 273.1,1325.62 275.1,1326.4 277.1,1327.13 279.1,1327.8 281.1,1328.43 283.1,1329.02 285.1,1329.57 287.1,1330.08 289.1,1330.56 291.1,1331 293.1,1331.4 295.1,1331.77 297.1,1332.1 299.1,1332.39 301.1,1332.63 303.1,1332.82 305.1,1332.96 307.1,1333.05 309.1,1333.07 311.1,1333.03 313.1,1332.92 315.1,1332.74 317.1,1332.48 319.1,1332.15 321.1,1331.74 323.1,1331.25 325.1,1330.69 327.1,1330.06 329.1,1329.35 331.1,1328.58 333.1,1327.74 335.1,1326.85 337.1,1325.89 339.1,1324.89 341.1,1323.83 343.1,1322.74 345.1,1321.6 347.1,1320.43 349.1,1319.23 351.1,1318 353.1,1316.74 355.1,1315.45 357.1,1314.13 359.1,1312.79 361.1,1311.43 363.1,1310.06 365.1,1308.65 367.1,1307.23 369.1,1305.79 371.1,1304.32 373.1,1302.81 375.1,1301.26 377.1,1299.64 379.1,1297.93 381.1,1296.1 383.1,1294.13 385.1,1292 387.1,1289.71 389.1,1287.27 391.1,1284.67 393.1,1281.94 395.1,1279.17 397.1,1276.36 399.1,1273.53 401.1,1270.67 403.1,1267.78 405.1,1264.84 407.1,1261.83 409.1,1258.71 411.1,1255.45 413.1,1252.03 415.1,1248.42 417.1,1244.61 419.1,1240.61 421.1,1236.45 423.1,1232.15 425.1,1227.75 427.1,1223.28 429.1,1218.77 431.1,1214.23 433.1,1209.68 435.1,1205.12 437.1,1200.57 439.1,1196.03 441.1,1191.5 443.1,1187 445.1,1182.52 447.1,1178.07 449.1,1173.65 451.1,1169.26 453.1,1164.89 455.1,1160.55 457.1,1156.23 459.1,1151.92 461.1,1147.62 463.1,1143.32 465.1,1139.03 467.1,1134.73 469.1,1130.44 471.1,1126.15 473.1,1121.86 475.1,1117.57 477.1,1113.27 477.6,1112.2" stroke="#0f5aa1"/><polyline points="141.1,1206 143.1,1207.2 145.1,1208.39 147.1,1209.59 149.1,1210.81 151.1,1212.11 153.1,1213.61 155.1,1215.4 157.1,1217.42 159.1,1219.56 161.1,1221.77 163.1,1224.09 165.1,1226.53 167.1,1229.04 169.1,1231.59 171.1,1234.12 173.1,1236.62 175.1,1239.04 177.1,1241.36 179.1,1243.62 181.1,1245.86 183.1,1248.08 185.1,1250.27 187.1,1252.4 189.1,1254.45 191.1,1256.45 193.1,1258.48 195.1,1260.61 197.1,1262.94 199.1,1265.44 201.1,1268 203.1,1270.44 205.1,1272.64 207.1,1274.59 209.1,1276.42 211.1,1278.23 213.1,1280.15 215.1,1282.29 217.1,1284.7 219.1,1287.27 221.1,1289.88 223.1,1292.47 225.1,1295.02 227.1,1297.54 229.1,1300.04 231.1,1302.46 233.1,1304.72 235.1,1306.75 237.1,1308.6 239.1,1310.38 241.1,1312.11 243.1,1313.78 245.1,1315.35 247.1,1316.82 249.1,1318.23 251.1,1319.63 253.1,1321.04 255.1,1322.45 257.1,1323.9 259.1,1325.4 261.1,1326.93 263.1,1328.44 265.1,1329.87 267.1,1331.12 269.1,1332.14 271.1,1332.97 273.1,1333.7 275.1,1334.38 277.1,1335 279.1,1335.54 281.1,1335.98 283.1,1336.33 285.1,1336.64 287.1,1336.92 289.1,1337.18 291.1,1337.42 293.1,1337.64 295.1,1337.84 297.1,1338.02 299.1,1338.19 301.1,1338.33 303.1,1338.45 305.1,1338.55 307.1,1338.63 309.1,1338.66 311.1,1338.66 313.1,1338.6 315.1,1338.48 317.1,1338.3 319.1,1338.04 321.1,1337.7 323.1,1337.28 325.1,1336.79 327.1,1336.22 329.1,1335.58 331.1,1334.88 333.1,1334.12 335.1,1333.3 337.1,1332.44 339.1,1331.52 341.1,1330.55 343.1,1329.54 345.1,1328.48 347.1,1327.4 349.1,1326.28 351.1,1325.14 353.1,1323.98 355.1,1322.8 357.1,1321.62 359.1,1320.43 361.1,1319.22 363.1,1318.01 365.1,1316.78 367.1,1315.52 369.1,1314.24 371.1,1312.9 373.1,1311.51 375.1,1310.04 377.1,1308.48 379.1,1306.8 381.1,1305.01 383.1,1303.09 385.1,1301.05 387.1,1298.89 389.1,1296.62 391.1,1294.25 393.1,1291.8 395.1,1289.29 397.1,1286.71 399.1,1284.08 401.1,1281.38 403.1,1278.62 405.1,1275.77 407.1,1272.82 409.1,1269.74 411.1,1266.51 413.1,1263.12 415.1,1259.55 417.1,1255.8 419.1,1251.86 421.1,1247.77 423.1,1243.53 425.1,1239.17 427.1,1234.71 429.1,1230.17 431.1,1225.58 433.1,1220.96 435.1,1216.3 437.1,1211.64 439.1,1206.96 441.1,1202.28 443.1,1197.59 445.1,1192.9 447.1,1188.21 449.1,1183.52 451.1,1178.83 453.1,1174.14 455.1,1169.44 457.1,1164.75 459.1,1160.05 461.1,1155.36 463.1,1150.66 465.1,1145.96 467.1,1141.26 469.1,1136.57 471.1,1131.87 473.1,1127.17 475.1,1122.47 477.1,1117.77 477.6,1116.6" stroke="#084d92"/><polyline points="141.1,1220 143.1,1220.96 145.1,1221.92 147.1,1222.9 149.1,1223.98 151.1,1225.24 153.1,1226.72 155.1,1228.38 157.1,1230.18 159.1,1232.2 161.1,1234.44 163.1,1236.82 165.1,1239.26 167.1,1241.71 169.1,1244.15 171.1,1246.55 173.1,1248.85 175.1,1251.02 177.1,1253.09 179.1,1255.1 181.1,1257.12 183.1,1259.18 185.1,1261.33 187.1,1263.55 189.1,1265.84 191.1,1268.21 193.1,1270.78 195.1,1273.62 197.1,1276.61 199.1,1279.5 201.1,1282.08 203.1,1284.3 205.1,1286.28 207.1,1288.05 209.1,1289.65 211.1,1291.15 213.1,1292.69 215.1,1294.47 217.1,1296.65 219.1,1299.21 221.1,1301.96 223.1,1304.73 225.1,1307.4 227.1,1309.94 229.1,1312.33 231.1,1314.56 233.1,1316.5 235.1,1318.07 237.1,1319.35 239.1,1320.51 241.1,1321.64 243.1,1322.81 245.1,1324.02 247.1,1325.27 249.1,1326.56 251.1,1327.87 253.1,1329.23 255.1,1330.65 257.1,1332.12 259.1,1333.6 261.1,1335.02 263.1,1336.2 265.1,1337.03 267.1,1337.6 269.1,1338.05 271.1,1338.48 273.1,1338.9 275.1,1339.31 277.1,1339.69 279.1,1340.03 281.1,1340.31 283.1,1340.56 285.1,1340.78 287.1,1340.99 289.1,1341.19 291.1,1341.38 293.1,1341.55 295.1,1341.71 297.1,1341.86 299.1,1341.99 301.1,1342.11 303.1,1342.2 305.1,1342.28 307.1,1342.33 309.1,1342.35 311.1,1342.34 313.1,1342.29 315.1,1342.2 317.1,1342.05 319.1,1341.85 321.1,1341.6 323.1,1341.29 325.1,1340.92 327.1,1340.5 329.1,1340.02 331.1,1339.49 333.1,1338.91 335.1,1338.27 337.1,1337.59 339.1,1336.86 341.1,1336.08 343.1,1335.25 345.1,1334.38 347.1,1333.47 349.1,1332.52 351.1,1331.55 353.1,1330.56 355.1,1329.56 357.1,1328.54 359.1,1327.52 361.1,1326.48 363.1,1325.43 365.1,1324.36 367.1,1323.28 369.1,1322.15 371.1,1320.98 373.1,1319.75 375.1,1318.43 377.1,1317.02 379.1,1315.5 381.1,1313.85 383.1,1312.06 385.1,1310.15 387.1,1308.12 389.1,1305.97 391.1,1303.73 393.1,1301.39 395.1,1298.99 397.1,1296.53 399.1,1294 401.1,1291.42 403.1,1288.76 405.1,1286.01 407.1,1283.15 409.1,1280.17 411.1,1277.03 413.1,1273.71 415.1,1270.21 417.1,1266.53 419.1,1262.65 421.1,1258.61 423.1,1254.42 425.1,1250.1 427.1,1245.68 429.1,1241.18 431.1,1236.62 433.1,1232.02 435.1,1227.4 437.1,1222.75 439.1,1218.09 441.1,1213.42 443.1,1208.74 445.1,1204.04 447.1,1199.34 449.1,1194.63 451.1,1189.91 453.1,1185.18 455.1,1180.45 457.1,1175.7 459.1,1170.96 461.1,1166.2 463.1,1161.44 465.1,1156.68 467.1,1151.91 469.1,1147.15 471.1,1142.38 473.1,1137.62 475.1,1132.86 477.1,1128.09 477.6,1126.9" stroke="#08427f"/><polyline points="141.1,1235.7 143.1,1236.74 145.1,1237.8 147.1,1239.01 149.1,1240.39 151.1,1241.94 153.1,1243.64 155.1,1245.5 157.1,1247.6 159.1,1249.94 161.1,1252.4 163.1,1254.89 165.1,1257.31 167.1,1259.61 169.1,1261.75 171.1,1263.79 173.1,1265.8 175.1,1267.79 177.1,1269.77 179.1,1271.76 181.1,1273.76 183.1,1275.85 185.1,1278.06 187.1,1280.4 189.1,1282.81 191.1,1285.27 193.1,1287.8 195.1,1290.39 197.1,1292.95 199.1,1295.28 201.1,1297.33 203.1,1299.15 205.1,1300.78 207.1,1302.25 209.1,1303.58 211.1,1304.87 213.1,1306.19 215.1,1307.63 217.1,1309.29 219.1,1311.16 221.1,1313.17 223.1,1315.3 225.1,1317.53 227.1,1319.8 229.1,1321.96 231.1,1323.89 233.1,1325.54 235.1,1326.97 237.1,1328.24 239.1,1329.39 241.1,1330.44 243.1,1331.45 245.1,1332.45 247.1,1333.46 249.1,1334.49 251.1,1335.58 253.1,1336.73 255.1,1337.9 257.1,1339.04 259.1,1340.11 261.1,1341.12 263.1,1342 265.1,1342.67 267.1,1343.11 269.1,1343.41 271.1,1343.65 273.1,1343.88 275.1,1344.1 277.1,1344.3 279.1,1344.47 281.1,1344.6 283.1,1344.69 285.1,1344.77 287.1,1344.84 289.1,1344.9 291.1,1344.96 293.1,1345.01 295.1,1345.05 297.1,1345.09 299.1,1345.12 301.1,1345.15 303.1,1345.18 305.1,1345.2 307.1,1345.21 309.1,1345.21 311.1,1345.2 313.1,1345.17 315.1,1345.13 317.1,1345.06 319.1,1344.97 321.1,1344.85 323.1,1344.71 325.1,1344.53 327.1,1344.31 329.1,1344.06 331.1,1343.77 333.1,1343.43 335.1,1343.04 337.1,1342.6 339.1,1342.1 341.1,1341.54 343.1,1340.92 345.1,1340.25 347.1,1339.53 349.1,1338.76 351.1,1337.97 353.1,1337.14 355.1,1336.3 357.1,1335.44 359.1,1334.57 361.1,1333.69 363.1,1332.79 365.1,1331.88 367.1,1330.94 369.1,1329.97 371.1,1328.96 373.1,1327.88 375.1,1326.72 377.1,1325.47 379.1,1324.11 381.1,1322.62 383.1,1321.01 385.1,1319.27 387.1,1317.41 389.1,1315.43 391.1,1313.36 393.1,1311.21 395.1,1308.99 397.1,1306.71 399.1,1304.37 401.1,1301.97 403.1,1299.51 405.1,1296.96 407.1,1294.31 409.1,1291.54 411.1,1288.63 413.1,1285.56 415.1,1282.32 417.1,1278.9 419.1,1275.31 421.1,1271.57 423.1,1267.68 425.1,1263.68 427.1,1259.58 429.1,1255.41 431.1,1251.17 433.1,1246.89 435.1,1242.57 437.1,1238.22 439.1,1233.82 441.1,1229.38 443.1,1224.9 445.1,1220.36 447.1,1215.77 449.1,1211.12 451.1,1206.42 453.1,1201.66 455.1,1196.87 457.1,1192.04 459.1,1187.17 461.1,1182.28 463.1,1177.34 465.1,1172.38 467.1,1167.42 469.1,1162.47 471.1,1157.51 473.1,1152.55 475.1,1147.6 477.1,1142.64 477.6,1141.4" stroke="#08336b"/></g>
<rect x="141.1" y="1018" width="350.1" height="345.3" fill="none" stroke="#000" stroke-width="2" />
<line x1="141.1" y1="1230.6" x2="148.1" y2="1230.6" stroke="#000" stroke-width="2" />
<line x1="141.1" y1="1097.9" x2="148.1" y2="1097.9" stroke="#000" stroke-width="2" />
<line x1="163" y1="1363.3" x2="163" y2="1356.3" stroke="#000" stroke-width="2" />
<line x1="272.46" y1="1363.3" x2="272.46" y2="1356.3" stroke="#000" stroke-width="2" />
<line x1="381.92" y1="1363.3" x2="381.92" y2="1356.3" stroke="#000" stroke-width="2" />
<text x="131" y="1105.9" font-size="29.3" text-anchor="end" >1.0</text>
<text x="131" y="1238.6" font-size="29.3" text-anchor="end" >0.5</text>
<text x="131" y="1371.3" font-size="29.3" text-anchor="end" >0</text>
<text x="162" y="1394.8" font-size="29.3" text-anchor="middle" >4</text>
<text x="271.46" y="1394.8" font-size="29.3" text-anchor="middle" >6</text>
<text x="380.92" y="1394.8" font-size="29.3" text-anchor="middle" >8</text>
<text x="490.38" y="1394.8" font-size="29.3" text-anchor="middle" >10</text>
<text x="237.5" y="1434.3" font-size="29.3" textLength="165.5"><tspan font-style="italic">n</tspan> (10<tspan font-size="20.5" dy="-9.8">12</tspan><tspan dy="9.8"> cm</tspan><tspan font-size="20.5" dy="-9.8">–2</tspan><tspan dy="9.8">)</tspan></text>
<text transform="translate(39.1,1256) rotate(-90)" x="0" y="0" font-size="29.3" text-anchor="start" textLength="108.5"><tspan>G</tspan><tspan font-style="italic" font-size="20.5" dy="9.5">xx</tspan><tspan dy="-9.5"> (mS)</tspan></text>
<text x="483" y="1058.7" font-size="29.3" text-anchor="end" >250 K</text>
<text x="477.8" y="1319.8" font-size="29.3" text-anchor="end" >1.7 K</text>
<line x1="447.7" y1="1069.3" x2="447.7" y2="1270" stroke="#222" stroke-width="2.4" stroke-dasharray="8.5,4.4" stroke-dashoffset="6.9"/>
<path d="M447.7,1282.7 L441.2,1266.5 L447.7,1269.5 L454.2,1266.5 Z" fill="#222"/>
<text x="527" y="1041" font-size="33" font-weight="bold" stroke="#000" stroke-width="0.9" transform="translate(527,1041) scale(1.08,1) translate(-527,-1041)">d</text>
<rect x="599" y="1205.5" width="347.2" height="154.7" fill="#eff1fd" stroke="none" stroke-width="0" />
<line x1="599" y1="1205.5" x2="946.2" y2="1205.5" stroke="#444" stroke-width="1.3" stroke-dasharray="5,3.2"/>
<polyline points="625.68,1053.22 625.7,1053.41 625.71,1053.61 625.73,1053.81 625.75,1054.01 625.76,1054.22 625.78,1054.43 625.8,1054.64 625.82,1054.86 625.84,1055.08 625.85,1055.31 625.87,1055.54 625.89,1055.77 625.91,1056.01 625.93,1056.25 625.95,1056.5 625.97,1056.75 625.99,1057.01 626.02,1057.27 626.04,1057.53 626.06,1057.8 626.08,1058.08 626.11,1058.36 626.13,1058.65 626.15,1058.94 626.18,1059.24 626.2,1059.54 626.23,1059.85 626.25,1060.17 626.28,1060.49 626.31,1060.82 626.34,1061.16 626.36,1061.5 626.39,1061.85 626.42,1062.21 626.45,1062.58 626.48,1062.96 626.52,1063.34 626.55,1063.73 626.58,1064.14 626.61,1064.55 626.65,1064.97 626.68,1065.4 626.72,1065.84 626.76,1066.3 626.8,1066.76 626.84,1067.24 626.88,1067.73 626.92,1068.23 626.96,1068.74 627,1069.27 627.05,1069.81 627.09,1070.37 627.14,1070.94 627.19,1071.53 627.24,1072.14 627.29,1072.76 627.34,1073.4 627.4,1074.06 627.45,1074.74 627.51,1075.44 627.57,1076.17 627.63,1076.91 627.7,1077.68 627.76,1078.48 627.83,1079.3 627.9,1080.15 627.97,1081.03 628.05,1081.94 628.12,1082.89 628.2,1083.86 628.29,1084.88 628.37,1085.93 628.46,1087.02 628.56,1088.16 628.66,1089.34 628.76,1090.57 628.86,1091.85 628.97,1093.18 629.09,1094.15 629.21,1095.01 629.33,1095.9 629.46,1096.84 629.6,1097.82 629.74,1098.85 629.89,1099.94 630.05,1101.07 630.22,1102.27 630.4,1103.53 630.58,1104.86 630.78,1106.27 630.99,1107.76 631.21,1109.34 631.44,1111.02 631.69,1112.81 631.96,1114.39 632.24,1115.93 632.55,1117.58 632.88,1119.34 633.23,1121.25 633.61,1123.31 634.02,1125.53 634.47,1127.96 634.96,1130.6 635.5,1133.49 636.09,1136.32 636.74,1139.37 637.46,1142.76 638.27,1146.54 639.18,1150.8 640.22,1154.5 641.4,1158.36 642.76,1162.81 644.35,1167.91 646.22,1172.76 648.48,1178.57 651.23,1184.31 654.67,1189.6 659.09,1193.86 664.99,1198.13 673.25,1202.33 689.77,1205.45 722.8,1209.21 821.9,1208.56 912.08,1208.56" fill="none" stroke="#1f50cc" stroke-width="2.6"/>
<g fill="#c6d4f1" stroke="#1f50cc" stroke-width="2.7"><rect x="903.38" y="1199.86" width="17.4" height="17.4"/><rect x="813.2" y="1199.86" width="17.4" height="17.4"/><rect x="714.1" y="1200.51" width="17.4" height="17.4"/><rect x="681.07" y="1196.75" width="17.4" height="17.4"/><rect x="664.55" y="1193.63" width="17.4" height="17.4"/><rect x="656.29" y="1189.43" width="17.4" height="17.4"/><rect x="650.39" y="1185.16" width="17.4" height="17.4"/><rect x="645.97" y="1180.9" width="17.4" height="17.4"/><rect x="642.53" y="1175.61" width="17.4" height="17.4"/><rect x="639.77" y="1169.87" width="17.4" height="17.4"/><rect x="637.52" y="1164.06" width="17.4" height="17.4"/><rect x="635.65" y="1159.21" width="17.4" height="17.4"/><rect x="634.06" y="1154.11" width="17.4" height="17.4"/><rect x="632.7" y="1149.66" width="17.4" height="17.4"/><rect x="631.52" y="1145.8" width="17.4" height="17.4"/><rect x="630.48" y="1142.1" width="17.4" height="17.4"/><rect x="629.57" y="1137.84" width="17.4" height="17.4"/><rect x="628.76" y="1134.06" width="17.4" height="17.4"/><rect x="628.04" y="1130.67" width="17.4" height="17.4"/><rect x="627.39" y="1127.62" width="17.4" height="17.4"/><rect x="626.8" y="1124.79" width="17.4" height="17.4"/><rect x="626.26" y="1121.9" width="17.4" height="17.4"/><rect x="625.77" y="1119.26" width="17.4" height="17.4"/><rect x="625.32" y="1116.83" width="17.4" height="17.4"/><rect x="624.91" y="1114.61" width="17.4" height="17.4"/><rect x="624.53" y="1112.55" width="17.4" height="17.4"/><rect x="624.18" y="1110.64" width="17.4" height="17.4"/><rect x="623.85" y="1108.88" width="17.4" height="17.4"/><rect x="623.54" y="1107.23" width="17.4" height="17.4"/><rect x="623.26" y="1105.69" width="17.4" height="17.4"/><rect x="622.99" y="1104.11" width="17.4" height="17.4"/><rect x="622.74" y="1102.32" width="17.4" height="17.4"/><rect x="622.51" y="1100.64" width="17.4" height="17.4"/><rect x="622.29" y="1099.06" width="17.4" height="17.4"/><rect x="622.08" y="1097.57" width="17.4" height="17.4"/><rect x="621.88" y="1096.16" width="17.4" height="17.4"/><rect x="621.7" y="1094.83" width="17.4" height="17.4"/><rect x="621.52" y="1093.57" width="17.4" height="17.4"/><rect x="621.35" y="1092.37" width="17.4" height="17.4"/><rect x="621.19" y="1091.24" width="17.4" height="17.4"/><rect x="621.04" y="1090.15" width="17.4" height="17.4"/><rect x="620.9" y="1089.12" width="17.4" height="17.4"/><rect x="620.76" y="1088.14" width="17.4" height="17.4"/><rect x="620.63" y="1087.2" width="17.4" height="17.4"/><rect x="620.51" y="1086.31" width="17.4" height="17.4"/><rect x="620.39" y="1085.45" width="17.4" height="17.4"/><rect x="620.27" y="1084.48" width="17.4" height="17.4"/><rect x="620.16" y="1083.15" width="17.4" height="17.4"/><rect x="620.06" y="1081.87" width="17.4" height="17.4"/><rect x="619.96" y="1080.64" width="17.4" height="17.4"/><rect x="619.86" y="1079.46" width="17.4" height="17.4"/><rect x="619.76" y="1078.32" width="17.4" height="17.4"/><rect x="619.67" y="1077.23" width="17.4" height="17.4"/><rect x="619.59" y="1076.18" width="17.4" height="17.4"/><rect x="619.5" y="1075.16" width="17.4" height="17.4"/><rect x="619.42" y="1074.19" width="17.4" height="17.4"/><rect x="619.35" y="1073.24" width="17.4" height="17.4"/><rect x="619.27" y="1072.33" width="17.4" height="17.4"/><rect x="619.2" y="1071.45" width="17.4" height="17.4"/><rect x="619.13" y="1070.6" width="17.4" height="17.4"/><rect x="619.06" y="1069.78" width="17.4" height="17.4"/><rect x="619" y="1068.98" width="17.4" height="17.4"/><rect x="618.93" y="1068.21" width="17.4" height="17.4"/><rect x="618.87" y="1067.47" width="17.4" height="17.4"/><rect x="618.81" y="1066.74" width="17.4" height="17.4"/><rect x="618.75" y="1066.04" width="17.4" height="17.4"/><rect x="618.7" y="1065.36" width="17.4" height="17.4"/><rect x="618.64" y="1064.7" width="17.4" height="17.4"/><rect x="618.59" y="1064.06" width="17.4" height="17.4"/><rect x="618.54" y="1063.44" width="17.4" height="17.4"/><rect x="618.49" y="1062.83" width="17.4" height="17.4"/><rect x="618.44" y="1062.24" width="17.4" height="17.4"/><rect x="618.39" y="1061.67" width="17.4" height="17.4"/><rect x="618.35" y="1061.11" width="17.4" height="17.4"/><rect x="618.3" y="1060.57" width="17.4" height="17.4"/><rect x="618.26" y="1060.04" width="17.4" height="17.4"/><rect x="618.22" y="1059.53" width="17.4" height="17.4"/><rect x="618.18" y="1059.03" width="17.4" height="17.4"/><rect x="618.14" y="1058.54" width="17.4" height="17.4"/><rect x="618.1" y="1058.06" width="17.4" height="17.4"/><rect x="618.06" y="1057.6" width="17.4" height="17.4"/><rect x="618.02" y="1057.14" width="17.4" height="17.4"/><rect x="617.98" y="1056.7" width="17.4" height="17.4"/><rect x="617.95" y="1056.27" width="17.4" height="17.4"/><rect x="617.91" y="1055.85" width="17.4" height="17.4"/><rect x="617.88" y="1055.44" width="17.4" height="17.4"/><rect x="617.85" y="1055.03" width="17.4" height="17.4"/><rect x="617.82" y="1054.64" width="17.4" height="17.4"/><rect x="617.78" y="1054.26" width="17.4" height="17.4"/><rect x="617.75" y="1053.88" width="17.4" height="17.4"/><rect x="617.72" y="1053.51" width="17.4" height="17.4"/><rect x="617.69" y="1053.15" width="17.4" height="17.4"/><rect x="617.66" y="1052.8" width="17.4" height="17.4"/><rect x="617.64" y="1052.46" width="17.4" height="17.4"/><rect x="617.61" y="1052.12" width="17.4" height="17.4"/><rect x="617.58" y="1051.79" width="17.4" height="17.4"/><rect x="617.55" y="1051.47" width="17.4" height="17.4"/><rect x="617.53" y="1051.15" width="17.4" height="17.4"/><rect x="617.5" y="1050.84" width="17.4" height="17.4"/><rect x="617.48" y="1050.54" width="17.4" height="17.4"/><rect x="617.45" y="1050.24" width="17.4" height="17.4"/><rect x="617.43" y="1049.95" width="17.4" height="17.4"/><rect x="617.41" y="1049.66" width="17.4" height="17.4"/><rect x="617.38" y="1049.38" width="17.4" height="17.4"/><rect x="617.36" y="1049.1" width="17.4" height="17.4"/><rect x="617.34" y="1048.83" width="17.4" height="17.4"/><rect x="617.32" y="1048.57" width="17.4" height="17.4"/><rect x="617.29" y="1048.31" width="17.4" height="17.4"/><rect x="617.27" y="1048.05" width="17.4" height="17.4"/><rect x="617.25" y="1047.8" width="17.4" height="17.4"/><rect x="617.23" y="1047.55" width="17.4" height="17.4"/><rect x="617.21" y="1047.31" width="17.4" height="17.4"/><rect x="617.19" y="1047.07" width="17.4" height="17.4"/><rect x="617.17" y="1046.84" width="17.4" height="17.4"/><rect x="617.15" y="1046.61" width="17.4" height="17.4"/><rect x="617.14" y="1046.38" width="17.4" height="17.4"/><rect x="617.12" y="1046.16" width="17.4" height="17.4"/><rect x="617.1" y="1045.94" width="17.4" height="17.4"/><rect x="617.08" y="1045.73" width="17.4" height="17.4"/><rect x="617.06" y="1045.52" width="17.4" height="17.4"/><rect x="617.05" y="1045.31" width="17.4" height="17.4"/><rect x="617.03" y="1045.11" width="17.4" height="17.4"/><rect x="617.01" y="1044.91" width="17.4" height="17.4"/><rect x="617" y="1044.71" width="17.4" height="17.4"/><rect x="616.98" y="1044.52" width="17.4" height="17.4"/></g>
<rect x="599" y="1018.1" width="347.2" height="342.1" fill="none" stroke="#000" stroke-width="2" />
<line x1="599" y1="1057.1" x2="606.6" y2="1057.1" stroke="#000" stroke-width="2" />
<line x1="599" y1="1189.3" x2="606.6" y2="1189.3" stroke="#000" stroke-width="2" />
<line x1="599" y1="1321.5" x2="606.6" y2="1321.5" stroke="#000" stroke-width="2" />
<line x1="599" y1="1149.5" x2="603.8" y2="1149.5" stroke="#000" stroke-width="1.8" />
<line x1="599" y1="1126.22" x2="603.8" y2="1126.22" stroke="#000" stroke-width="1.8" />
<line x1="599" y1="1109.71" x2="603.8" y2="1109.71" stroke="#000" stroke-width="1.8" />
<line x1="599" y1="1096.9" x2="603.8" y2="1096.9" stroke="#000" stroke-width="1.8" />
<line x1="599" y1="1086.43" x2="603.8" y2="1086.43" stroke="#000" stroke-width="1.8" />
<line x1="599" y1="1077.58" x2="603.8" y2="1077.58" stroke="#000" stroke-width="1.8" />
<line x1="599" y1="1069.91" x2="603.8" y2="1069.91" stroke="#000" stroke-width="1.8" />
<line x1="599" y1="1063.15" x2="603.8" y2="1063.15" stroke="#000" stroke-width="1.8" />
<line x1="599" y1="1281.7" x2="603.8" y2="1281.7" stroke="#000" stroke-width="1.8" />
<line x1="599" y1="1258.42" x2="603.8" y2="1258.42" stroke="#000" stroke-width="1.8" />
<line x1="599" y1="1241.91" x2="603.8" y2="1241.91" stroke="#000" stroke-width="1.8" />
<line x1="599" y1="1229.1" x2="603.8" y2="1229.1" stroke="#000" stroke-width="1.8" />
<line x1="599" y1="1218.63" x2="603.8" y2="1218.63" stroke="#000" stroke-width="1.8" />
<line x1="599" y1="1209.78" x2="603.8" y2="1209.78" stroke="#000" stroke-width="1.8" />
<line x1="599" y1="1202.11" x2="603.8" y2="1202.11" stroke="#000" stroke-width="1.8" />
<line x1="599" y1="1195.35" x2="603.8" y2="1195.35" stroke="#000" stroke-width="1.8" />
<line x1="599" y1="1350.83" x2="603.8" y2="1350.83" stroke="#000" stroke-width="1.8" />
<line x1="599" y1="1341.98" x2="603.8" y2="1341.98" stroke="#000" stroke-width="1.8" />
<line x1="599" y1="1334.31" x2="603.8" y2="1334.31" stroke="#000" stroke-width="1.8" />
<line x1="599" y1="1327.55" x2="603.8" y2="1327.55" stroke="#000" stroke-width="1.8" />
<line x1="623.7" y1="1360.2" x2="623.7" y2="1353.2" stroke="#000" stroke-width="2" />
<line x1="772.35" y1="1360.2" x2="772.35" y2="1353.2" stroke="#000" stroke-width="2" />
<line x1="921" y1="1360.2" x2="921" y2="1353.2" stroke="#000" stroke-width="2" />
<text x="590" y="1073.8" font-size="29.3" text-anchor="end" >10<tspan font-size="20.5" dy="-9.8">0</tspan></text>
<text x="590" y="1205.9" font-size="29.3" text-anchor="end" >10<tspan font-size="20.5" dy="-9.8">–1</tspan></text>
<text x="590" y="1336.8" font-size="29.3" text-anchor="end" >10<tspan font-size="20.5" dy="-9.8">–2</tspan></text>
<text x="622.9" y="1394.8" font-size="29.3" text-anchor="middle" >0</text>
<text x="771.55" y="1394.8" font-size="29.3" text-anchor="middle" >0.3</text>
<text x="920.2" y="1394.8" font-size="29.3" text-anchor="middle" >0.6</text>
<text x="833" y="1194" font-size="29.3" >2e<tspan font-size="20.5" dy="-9.8">2</tspan><tspan dy="9.8">/</tspan><tspan font-style="italic">h</tspan></text>
<text x="716.5" y="1435" font-size="29.3" textLength="104.6"><tspan font-style="italic">T</tspan><tspan font-size="20.5" dy="-9.8">–1</tspan><tspan dy="9.8"> (K</tspan><tspan font-size="20.5" dy="-9.8">–1</tspan><tspan dy="9.8">)</tspan></text>
<text x="18.8" y="1510" font-size="34.5" font-weight="bold" stroke="#000" stroke-width="0.9">e</text>
<path d="M139.1,1485.6 L139.1,2015.7 L945,2015.7" fill="none" stroke="#000" stroke-width="2"/>
<line x1="139.1" y1="2015.7" x2="155.1" y2="2015.7" stroke="#000" stroke-width="2" />
<line x1="139.1" y1="1801.9" x2="155.1" y2="1801.9" stroke="#000" stroke-width="2" />
<line x1="139.1" y1="1588.1" x2="155.1" y2="1588.1" stroke="#000" stroke-width="2" />
<line x1="139.1" y1="1951.34" x2="148.1" y2="1951.34" stroke="#000" stroke-width="2" />
<line x1="139.1" y1="1913.69" x2="148.1" y2="1913.69" stroke="#000" stroke-width="2" />
<line x1="139.1" y1="1886.98" x2="148.1" y2="1886.98" stroke="#000" stroke-width="2" />
<line x1="139.1" y1="1866.26" x2="148.1" y2="1866.26" stroke="#000" stroke-width="2" />
<line x1="139.1" y1="1849.33" x2="148.1" y2="1849.33" stroke="#000" stroke-width="2" />
<line x1="139.1" y1="1835.02" x2="148.1" y2="1835.02" stroke="#000" stroke-width="2" />
<line x1="139.1" y1="1822.62" x2="148.1" y2="1822.62" stroke="#000" stroke-width="2" />
<line x1="139.1" y1="1811.68" x2="148.1" y2="1811.68" stroke="#000" stroke-width="2" />
<line x1="139.1" y1="1737.54" x2="148.1" y2="1737.54" stroke="#000" stroke-width="2" />
<line x1="139.1" y1="1699.89" x2="148.1" y2="1699.89" stroke="#000" stroke-width="2" />
<line x1="139.1" y1="1673.18" x2="148.1" y2="1673.18" stroke="#000" stroke-width="2" />
<line x1="139.1" y1="1652.46" x2="148.1" y2="1652.46" stroke="#000" stroke-width="2" />
<line x1="139.1" y1="1635.53" x2="148.1" y2="1635.53" stroke="#000" stroke-width="2" />
<line x1="139.1" y1="1621.22" x2="148.1" y2="1621.22" stroke="#000" stroke-width="2" />
<line x1="139.1" y1="1608.82" x2="148.1" y2="1608.82" stroke="#000" stroke-width="2" />
<line x1="139.1" y1="1597.88" x2="148.1" y2="1597.88" stroke="#000" stroke-width="2" />
<line x1="139.1" y1="1523.74" x2="148.1" y2="1523.74" stroke="#000" stroke-width="2" />
<line x1="139.1" y1="1486.09" x2="148.1" y2="1486.09" stroke="#000" stroke-width="2" />
<line x1="437.7" y1="2015.7" x2="437.7" y2="1999.7" stroke="#000" stroke-width="2" />
<line x1="736.3" y1="2015.7" x2="736.3" y2="1999.7" stroke="#000" stroke-width="2" />
<line x1="228.99" y1="2015.7" x2="228.99" y2="2006.7" stroke="#000" stroke-width="2" />
<line x1="281.57" y1="2015.7" x2="281.57" y2="2006.7" stroke="#000" stroke-width="2" />
<line x1="318.88" y1="2015.7" x2="318.88" y2="2006.7" stroke="#000" stroke-width="2" />
<line x1="347.81" y1="2015.7" x2="347.81" y2="2006.7" stroke="#000" stroke-width="2" />
<line x1="371.46" y1="2015.7" x2="371.46" y2="2006.7" stroke="#000" stroke-width="2" />
<line x1="391.45" y1="2015.7" x2="391.45" y2="2006.7" stroke="#000" stroke-width="2" />
<line x1="408.76" y1="2015.7" x2="408.76" y2="2006.7" stroke="#000" stroke-width="2" />
<line x1="424.04" y1="2015.7" x2="424.04" y2="2006.7" stroke="#000" stroke-width="2" />
<line x1="527.59" y1="2015.7" x2="527.59" y2="2006.7" stroke="#000" stroke-width="2" />
<line x1="580.17" y1="2015.7" x2="580.17" y2="2006.7" stroke="#000" stroke-width="2" />
<line x1="617.48" y1="2015.7" x2="617.48" y2="2006.7" stroke="#000" stroke-width="2" />
<line x1="646.41" y1="2015.7" x2="646.41" y2="2006.7" stroke="#000" stroke-width="2" />
<line x1="670.06" y1="2015.7" x2="670.06" y2="2006.7" stroke="#000" stroke-width="2" />
<line x1="690.05" y1="2015.7" x2="690.05" y2="2006.7" stroke="#000" stroke-width="2" />
<line x1="707.36" y1="2015.7" x2="707.36" y2="2006.7" stroke="#000" stroke-width="2" />
<line x1="722.64" y1="2015.7" x2="722.64" y2="2006.7" stroke="#000" stroke-width="2" />
<line x1="826.19" y1="2015.7" x2="826.19" y2="2006.7" stroke="#000" stroke-width="2" />
<line x1="878.77" y1="2015.7" x2="878.77" y2="2006.7" stroke="#000" stroke-width="2" />
<line x1="916.08" y1="2015.7" x2="916.08" y2="2006.7" stroke="#000" stroke-width="2" />
<line x1="945.01" y1="2015.7" x2="945.01" y2="2006.7" stroke="#000" stroke-width="2" />
<text x="128.5" y="1596.1" font-size="29.3" text-anchor="end" >10</text>
<text x="126" y="1809.9" font-size="29.3" text-anchor="end" >1</text>
<text x="126.5" y="2023.7" font-size="29.3" text-anchor="end" >0.1</text>
<text x="139.1" y="2054" font-size="29.3" text-anchor="middle" >10</text>
<text x="437.7" y="2054" font-size="29.3" text-anchor="middle" >100</text>
<text x="736.3" y="2054" font-size="29.3" text-anchor="middle" >1,000</text>
<text x="483" y="2098" font-size="29.3" ><tspan font-style="italic">L</tspan><tspan font-size="20.5" dy="9.5">ch</tspan><tspan dy="-9.5"> (nm)</tspan></text>
<text transform="translate(40,1836) rotate(-90)" x="0" y="0" font-size="29.3" text-anchor="start" textLength="134.8"><tspan font-style="italic">R</tspan><tspan font-style="italic" font-size="20.5" dy="9.5">xx</tspan><tspan dy="-9.5"> (</tspan><tspan font-style="italic">h</tspan>/2e<tspan font-size="20.5" dy="-9.8">2</tspan><tspan dy="9.8">)</tspan></text>
<line x1="139.1" y1="1866.5" x2="761" y2="1866.5" stroke="#000" stroke-width="2.4" stroke-dasharray="7,5.9"/>
<text x="211" y="1900" font-size="29.3" ><tspan font-style="italic">h</tspan>/2e<tspan font-size="20.5" dy="-9.8">2</tspan></text>
<polyline points="480,1862.6 538.6,1848.2 658.3,1788.4" fill="none" stroke="#ff914d" stroke-width="2.3"/>
<g fill="#ff914d"><rect x="471.3" y="1853.9" width="17.4" height="17.4"/><rect x="529.9" y="1839.5" width="17.4" height="17.4"/><rect x="649.6" y="1779.7" width="17.4" height="17.4"/></g>
<polyline points="506,1854.5 527,1838 599.9,1767 671.3,1721.2" fill="none" stroke="#6a9fd0" stroke-width="2.3"/>
<g fill="#6a9fd0"><rect x="497.3" y="1845.8" width="17.4" height="17.4"/><rect x="518.3" y="1829.3" width="17.4" height="17.4"/><rect x="591.2" y="1758.3" width="17.4" height="17.4"/><rect x="662.6" y="1712.5" width="17.4" height="17.4"/></g>
<polyline points="527,1827.5 579.9,1787.5 616.9,1774.5 670.1,1666.8 698.5,1639.6 707.2,1614.3" fill="none" stroke="#c00c10" stroke-width="2.3"/>
<g fill="#c00c10"><rect x="518.3" y="1818.8" width="17.4" height="17.4"/><rect x="571.2" y="1778.8" width="17.4" height="17.4"/><rect x="608.2" y="1765.8" width="17.4" height="17.4"/><rect x="661.4" y="1658.1" width="17.4" height="17.4"/><rect x="689.8" y="1630.9" width="17.4" height="17.4"/><rect x="698.5" y="1605.6" width="17.4" height="17.4"/></g>
<polyline points="506,1827.5 527,1785.6 579.9,1754 632.4,1695.5 670.3,1658.8" fill="none" stroke="#7a2dbe" stroke-width="2.3"/>
<g fill="#7a2dbe"><rect x="497.3" y="1818.8" width="17.4" height="17.4"/><rect x="518.3" y="1776.9" width="17.4" height="17.4"/><rect x="571.2" y="1745.3" width="17.4" height="17.4"/><rect x="623.7" y="1686.8" width="17.4" height="17.4"/><rect x="661.6" y="1650.1" width="17.4" height="17.4"/></g>
<polyline points="390.7,1863.9 480.8,1859.6 539.5,1845.9 566.5,1818.9 658.4,1752 658.4,1721.4 714.6,1671.7 729.5,1650.7 748,1648.2 780.2,1635.9" fill="none" stroke="#000000" stroke-width="2.3"/>
<g fill="#000000"><rect x="382" y="1855.2" width="17.4" height="17.4"/><rect x="472.1" y="1850.9" width="17.4" height="17.4"/><rect x="530.8" y="1837.2" width="17.4" height="17.4"/><rect x="557.8" y="1810.2" width="17.4" height="17.4"/><rect x="649.7" y="1743.3" width="17.4" height="17.4"/><rect x="649.7" y="1712.7" width="17.4" height="17.4"/><rect x="705.9" y="1663" width="17.4" height="17.4"/><rect x="720.8" y="1642" width="17.4" height="17.4"/><rect x="739.3" y="1639.5" width="17.4" height="17.4"/><rect x="771.5" y="1627.2" width="17.4" height="17.4"/></g>
<polyline points="617.1,1847.1 669.9,1828.5 722.5,1784.3 797,1718.3 873.8,1659.2" fill="none" stroke="#1c6fe0" stroke-width="2.3"/>
<g fill="#1c6fe0"><rect x="608.4" y="1838.4" width="17.4" height="17.4"/><rect x="661.2" y="1819.8" width="17.4" height="17.4"/><rect x="713.8" y="1775.6" width="17.4" height="17.4"/><rect x="788.3" y="1709.6" width="17.4" height="17.4"/><rect x="865.1" y="1650.5" width="17.4" height="17.4"/></g>
<polyline points="826.8,1717.6 855,1692.8" fill="none" stroke="#ff7fb7" stroke-width="2.3"/>
<g fill="#ff7fb7"><rect x="818.1" y="1708.9" width="17.4" height="17.4"/><rect x="846.3" y="1684.1" width="17.4" height="17.4"/></g>
<g fill="#8c8c8c"><rect x="727.2" y="1798.4" width="18" height="18"/></g>
<g fill="#237a4b"><rect x="727.2" y="1855.8" width="18" height="18"/></g>
<polyline points="408.2,1852.5 423.8,1863.9 437.1,1859.8 461,1860.9 489.9,1849 506,1830.4 527.1,1820.9 556.5,1809.9 579.9,1797.9 599.9,1788 616.9,1779" fill="none" stroke="#6db800" stroke-width="2.3"/>
<g fill="#6db800"><rect x="398.3" y="1842.6" width="19.8" height="19.8"/><rect x="413.9" y="1854" width="19.8" height="19.8"/><rect x="427.2" y="1849.9" width="19.8" height="19.8"/><rect x="451.1" y="1851" width="19.8" height="19.8"/><rect x="480" y="1839.1" width="19.8" height="19.8"/><rect x="496.1" y="1820.5" width="19.8" height="19.8"/><rect x="517.2" y="1811" width="19.8" height="19.8"/><rect x="546.6" y="1800" width="19.8" height="19.8"/><rect x="570" y="1788" width="19.8" height="19.8"/><rect x="590" y="1778.1" width="19.8" height="19.8"/><rect x="607" y="1769.1" width="19.8" height="19.8"/></g>
<polygon points="689.9,1844.1 700.84,1852.05 696.66,1864.9 683.14,1864.9 678.96,1852.05" fill="#cc9a06"/>
<polygon points="689.9,1832.9 700.84,1840.85 696.66,1853.7 683.14,1853.7 678.96,1840.85" fill="#cc9a06"/>
<rect x="964.3" y="1491.1" width="22.6" height="22.6" fill="#8c8c8c" stroke="none" stroke-width="0" />
<text x="997.5" y="1513.7" font-size="29.3" >D1</text>
<rect x="964.3" y="1527.33" width="22.6" height="22.6" fill="#000000" stroke="none" stroke-width="0" />
<text x="997.5" y="1549.93" font-size="29.3" >D2</text>
<polygon points="975.6,1561.86 987.2,1570.29 982.77,1583.93 968.43,1583.93 964,1570.29" fill="#cc9a06"/>
<text x="997.5" y="1586.16" font-size="29.3" >D8</text>
<rect x="964.3" y="1599.79" width="22.6" height="22.6" fill="#7a2dbe" stroke="none" stroke-width="0" />
<text x="997.5" y="1622.39" font-size="29.3" >D9</text>
<rect x="964.3" y="1636.02" width="22.6" height="22.6" fill="#1c6fe0" stroke="none" stroke-width="0" />
<text x="997.5" y="1658.62" font-size="29.3" >D10</text>
<rect x="964.3" y="1672.25" width="22.6" height="22.6" fill="#c00c10" stroke="none" stroke-width="0" />
<text x="997.5" y="1694.85" font-size="29.3" >D11</text>
<rect x="964.3" y="1708.48" width="22.6" height="22.6" fill="#6a9fd0" stroke="none" stroke-width="0" />
<text x="997.5" y="1731.08" font-size="29.3" >D12</text>
<rect x="964.3" y="1744.71" width="22.6" height="22.6" fill="#ff914d" stroke="none" stroke-width="0" />
<text x="997.5" y="1767.31" font-size="29.3" >D13</text>
<rect x="964.3" y="1780.94" width="22.6" height="22.6" fill="#ff7fb7" stroke="none" stroke-width="0" />
<text x="997.5" y="1803.54" font-size="29.3" >D14</text>
<rect x="964.3" y="1817.17" width="22.6" height="22.6" fill="#237a4b" stroke="none" stroke-width="0" />
<text x="997.5" y="1839.77" font-size="29.3" >D15</text>
<rect x="964.3" y="1853.4" width="22.6" height="22.6" fill="#6db800" stroke="none" stroke-width="0" />
<text x="997.5" y="1876" font-size="29.3" >D16</text>
<text x="871.8" y="1871" font-size="29.3" text-anchor="middle" >QSH-II</text>
<rect x="821.5" y="1883.7" width="102" height="23.7" fill="#cdf3fc" stroke="#000" stroke-width="2.2" />
<path d="M821.5,1907.6 L923.5,1923.4 M817.2,1924.3 L923.5,1907.6" stroke="#b4000e" stroke-width="2.2" fill="none"/>
<rect x="821.5" y="1923.2" width="102.5" height="13.5" fill="#70b2e8" stroke="none" stroke-width="0" />
<path d="M802.67,1936.7 L807.8,1923.2 M807.47,1936.7 L812.6,1923.2 M812.27,1936.7 L817.4,1923.2 M817.07,1936.7 L822.2,1923.2 M821.87,1936.7 L827,1923.2 M826.67,1936.7 L831.8,1923.2 M831.47,1936.7 L836.6,1923.2 M836.27,1936.7 L841.4,1923.2 M841.07,1936.7 L846.2,1923.2 M845.87,1936.7 L851,1923.2 M850.67,1936.7 L855.8,1923.2 M855.47,1936.7 L860.6,1923.2 M860.27,1936.7 L865.4,1923.2 M865.07,1936.7 L870.2,1923.2 M869.87,1936.7 L875,1923.2 M874.67,1936.7 L879.8,1923.2 M879.47,1936.7 L884.6,1923.2 M884.27,1936.7 L889.4,1923.2 M889.07,1936.7 L894.2,1923.2 M893.87,1936.7 L899,1923.2 M898.67,1936.7 L903.8,1923.2 M903.47,1936.7 L908.6,1923.2 M908.27,1936.7 L913.4,1923.2 M913.07,1936.7 L918.2,1923.2 M917.87,1936.7 L923,1923.2 M922.67,1936.7 L927.8,1923.2" stroke="#111" stroke-width="0.9" clip-path="url(#hb7)" fill="none"/>
<rect x="821.5" y="1923.2" width="102.5" height="13.5" fill="none" stroke="#000" stroke-width="2.2" />
<rect x="821.5" y="1949.2" width="102.5" height="38.4" fill="#70b2e8" stroke="none" stroke-width="0" />
<path d="M793.21,1987.6 L807.8,1949.2 M798.01,1987.6 L812.6,1949.2 M802.81,1987.6 L817.4,1949.2 M807.61,1987.6 L822.2,1949.2 M812.41,1987.6 L827,1949.2 M817.21,1987.6 L831.8,1949.2 M822.01,1987.6 L836.6,1949.2 M826.81,1987.6 L841.4,1949.2 M831.61,1987.6 L846.2,1949.2 M836.41,1987.6 L851,1949.2 M841.21,1987.6 L855.8,1949.2 M846.01,1987.6 L860.6,1949.2 M850.81,1987.6 L865.4,1949.2 M855.61,1987.6 L870.2,1949.2 M860.41,1987.6 L875,1949.2 M865.21,1987.6 L879.8,1949.2 M870.01,1987.6 L884.6,1949.2 M874.81,1987.6 L889.4,1949.2 M879.61,1987.6 L894.2,1949.2 M884.41,1987.6 L899,1949.2 M889.21,1987.6 L903.8,1949.2 M894.01,1987.6 L908.6,1949.2 M898.81,1987.6 L913.4,1949.2 M903.61,1987.6 L918.2,1949.2 M908.41,1987.6 L923,1949.2 M913.21,1987.6 L927.8,1949.2 M918.01,1987.6 L932.6,1949.2 M922.81,1987.6 L937.4,1949.2" stroke="#111" stroke-width="0.9" clip-path="url(#hb8)" fill="none"/>
<rect x="821.5" y="1949.2" width="102.5" height="38.4" fill="none" stroke="#000" stroke-width="2.2" />
<rect x="821.5" y="1883.7" width="102" height="23.7" fill="none" stroke="#000" stroke-width="2.2" />
<rect x="241.5" y="1501.2" width="280.9" height="201.1" fill="#fff" stroke="none" stroke-width="0" />
<line x1="243" y1="1689.6" x2="346" y2="1689.6" stroke="#111" stroke-width="1.4" stroke-dasharray="3,2"/>
<line x1="359" y1="1529" x2="517" y2="1529" stroke="#1818a0" stroke-width="1.6" stroke-dasharray="3.2,2"/>
<g clip-path="url(#clipi)">
<g fill="#999" stroke="#000" stroke-width="1.8"><circle cx="244.8" cy="1572.8" r="2.8"/><circle cx="249.77" cy="1581.02" r="2.8"/><circle cx="254.74" cy="1589.86" r="2.8"/><circle cx="259.71" cy="1598.5" r="2.8"/><circle cx="264.68" cy="1607.38" r="2.8"/><circle cx="269.65" cy="1615.62" r="2.8"/><circle cx="274.62" cy="1623.9" r="2.8"/><circle cx="279.59" cy="1630.74" r="2.8"/><circle cx="284.56" cy="1637.57" r="2.8"/><circle cx="289.53" cy="1644.09" r="2.8"/><circle cx="294.5" cy="1650.1" r="2.8"/><circle cx="299.47" cy="1655.53" r="2.8"/><circle cx="304.44" cy="1660.91" r="2.8"/><circle cx="309.41" cy="1666.35" r="2.8"/><circle cx="314.38" cy="1671.65" r="2.8"/><circle cx="319.35" cy="1675.95" r="2.8"/><circle cx="324.32" cy="1679.47" r="2.8"/><circle cx="329.29" cy="1682.35" r="2.8"/><circle cx="334.26" cy="1685.01" r="2.8"/><circle cx="339.23" cy="1687.04" r="2.8"/><circle cx="344.2" cy="1688.53" r="2.8"/><circle cx="349.17" cy="1689.47" r="2.8"/><circle cx="354.14" cy="1689.85" r="2.8"/><circle cx="359.11" cy="1690.15" r="2.8"/><circle cx="364.08" cy="1690.2" r="2.8"/><circle cx="369.05" cy="1690.2" r="2.8"/><circle cx="374.02" cy="1690.2" r="2.8"/><circle cx="378.99" cy="1690.2" r="2.8"/><circle cx="383.96" cy="1690.11" r="2.8"/><circle cx="388.93" cy="1690" r="2.8"/><circle cx="393.9" cy="1689.89" r="2.8"/><circle cx="398.87" cy="1689.7" r="2.8"/><circle cx="403.84" cy="1689.09" r="2.8"/><circle cx="408.81" cy="1688.32" r="2.8"/><circle cx="413.78" cy="1687.36" r="2.8"/><circle cx="418.75" cy="1686.25" r="2.8"/><circle cx="423.72" cy="1684.69" r="2.8"/><circle cx="428.69" cy="1682.11" r="2.8"/><circle cx="433.66" cy="1678.96" r="2.8"/><circle cx="438.63" cy="1675.65" r="2.8"/><circle cx="443.6" cy="1671.74" r="2.8"/><circle cx="448.57" cy="1667.58" r="2.8"/><circle cx="453.54" cy="1662.85" r="2.8"/><circle cx="458.51" cy="1656.38" r="2.8"/><circle cx="463.48" cy="1648.74" r="2.8"/><circle cx="468.45" cy="1639.19" r="2.8"/><circle cx="473.42" cy="1628.61" r="2.8"/><circle cx="478.39" cy="1615.59" r="2.8"/><circle cx="483.36" cy="1602.87" r="2.8"/><circle cx="488.33" cy="1590.42" r="2.8"/><circle cx="493.3" cy="1576.45" r="2.8"/><circle cx="498.27" cy="1561.59" r="2.8"/><circle cx="503.24" cy="1545.1" r="2.8"/><circle cx="508.21" cy="1524.17" r="2.8"/><circle cx="513.18" cy="1504.27" r="2.8"/></g>
<g fill="#9fb6ee" stroke="#1d4dd6" stroke-width="1.9"><rect x="241.1" y="1682.9" width="5.2" height="5.2"/><rect x="246" y="1680.9" width="5.2" height="5.2"/><rect x="250.8" y="1679.2" width="5.2" height="5.2"/><rect x="255.9" y="1677.2" width="5.2" height="5.2"/><rect x="260.8" y="1675" width="5.2" height="5.2"/><rect x="265.9" y="1673" width="5.2" height="5.2"/><rect x="270.8" y="1670.7" width="5.2" height="5.2"/><rect x="275.9" y="1667.8" width="5.2" height="5.2"/><rect x="281.1" y="1665" width="5.2" height="5.2"/><rect x="285.9" y="1661" width="5.2" height="5.2"/><rect x="291.1" y="1656.4" width="5.2" height="5.2"/><rect x="295.9" y="1652.1" width="5.2" height="5.2"/><rect x="301.6" y="1647.3" width="5.2" height="5.2"/><rect x="307.3" y="1640.1" width="5.2" height="5.2"/><rect x="312.2" y="1627.9" width="5.2" height="5.2"/><rect x="317.3" y="1615.9" width="5.2" height="5.2"/><rect x="322.2" y="1604.4" width="5.2" height="5.2"/><rect x="327.3" y="1595.3" width="5.2" height="5.2"/><rect x="332.2" y="1579.3" width="5.2" height="5.2"/><rect x="337.3" y="1564.5" width="5.2" height="5.2"/><rect x="342.2" y="1553.6" width="5.2" height="5.2"/><rect x="346.7" y="1543.1" width="5.2" height="5.2"/><rect x="351.6" y="1530.2" width="5.2" height="5.2"/><rect x="356.4" y="1516.8" width="5.2" height="5.2"/><rect x="361.6" y="1511.7" width="5.2" height="5.2"/><rect x="366.7" y="1513.1" width="5.2" height="5.2"/><rect x="371.6" y="1515.9" width="5.2" height="5.2"/><rect x="376.7" y="1519.4" width="5.2" height="5.2"/><rect x="382.1" y="1523.1" width="5.2" height="5.2"/><rect x="386.7" y="1527.4" width="5.2" height="5.2"/><rect x="391.5" y="1530.2" width="5.2" height="5.2"/><rect x="396.7" y="1534.5" width="5.2" height="5.2"/><rect x="402.1" y="1538.4" width="5.2" height="5.2"/><rect x="406.3" y="1548.7" width="5.2" height="5.2"/><rect x="411.3" y="1557.3" width="5.2" height="5.2"/><rect x="416.2" y="1564.4" width="5.2" height="5.2"/><rect x="421.3" y="1573.7" width="5.2" height="5.2"/><rect x="426.2" y="1594.1" width="5.2" height="5.2"/><rect x="431.2" y="1605.9" width="5.2" height="5.2"/><rect x="436.1" y="1617.9" width="5.2" height="5.2"/><rect x="441.1" y="1629.1" width="5.2" height="5.2"/><rect x="446" y="1637.4" width="5.2" height="5.2"/><rect x="451" y="1644.8" width="5.2" height="5.2"/><rect x="455.9" y="1652.8" width="5.2" height="5.2"/><rect x="460.9" y="1658.8" width="5.2" height="5.2"/><rect x="465.8" y="1664.9" width="5.2" height="5.2"/><rect x="470.7" y="1670.5" width="5.2" height="5.2"/><rect x="475.7" y="1674.8" width="5.2" height="5.2"/><rect x="480.6" y="1677.9" width="5.2" height="5.2"/><rect x="485.6" y="1680.8" width="5.2" height="5.2"/><rect x="490.5" y="1682.9" width="5.2" height="5.2"/><rect x="495.5" y="1685.1" width="5.2" height="5.2"/><rect x="500.4" y="1686.8" width="5.2" height="5.2"/><rect x="505.4" y="1688.4" width="5.2" height="5.2"/><rect x="510.3" y="1689.7" width="5.2" height="5.2"/><rect x="515.3" y="1690.9" width="5.2" height="5.2"/></g>
</g>
<rect x="241.5" y="1501.2" width="280.9" height="201.1" fill="none" stroke="#000" stroke-width="2" />
<line x1="241.5" y1="1618.8" x2="246" y2="1618.8" stroke="#000" stroke-width="2" />
<line x1="241.5" y1="1535" x2="246" y2="1535" stroke="#000" stroke-width="2" />
<line x1="522.4" y1="1635.9" x2="517.9" y2="1635.9" stroke="#000" stroke-width="2" />
<line x1="522.4" y1="1568.5" x2="517.9" y2="1568.5" stroke="#000" stroke-width="2" />
<line x1="262.6" y1="1702.3" x2="262.6" y2="1697.8" stroke="#000" stroke-width="2" />
<line x1="357.1" y1="1702.3" x2="357.1" y2="1697.8" stroke="#000" stroke-width="2" />
<line x1="451.6" y1="1702.3" x2="451.6" y2="1697.8" stroke="#000" stroke-width="2" />
<text x="233.7" y="1544.5" font-size="29.3" text-anchor="end" >1.0</text>
<text x="233.7" y="1628.3" font-size="29.3" text-anchor="end" >0.5</text>
<text x="233.7" y="1713" font-size="29.3" text-anchor="end" >0</text>
<text x="527.8" y="1512" font-size="29.3" >15</text>
<text x="527.8" y="1578.2" font-size="29.3" >10</text>
<text x="527.8" y="1645" font-size="29.3" >5</text>
<text x="527.8" y="1712.4" font-size="29.3" >0</text>
<text x="262.6" y="1740" font-size="29.3" text-anchor="middle" >4</text>
<text x="357.1" y="1740" font-size="29.3" text-anchor="middle" >6</text>
<text x="451.6" y="1740" font-size="29.3" text-anchor="middle" >8</text>
<text x="294" y="1766" font-size="29.3" textLength="167.5"><tspan font-style="italic">n</tspan> (10<tspan font-size="20.5" dy="-9.8">12</tspan><tspan dy="9.8"> cm</tspan><tspan font-size="20.5" dy="-9.8">–2</tspan><tspan dy="9.8">)</tspan></text>
<text x="423" y="1557.5" font-size="29.3" ><tspan font-style="italic">h</tspan>/2e<tspan font-size="20.5" dy="-9.8">2</tspan></text>
<text x="325.6" y="1671" font-size="29.3" >2e<tspan font-size="20.5" dy="-9.8">2</tspan><tspan dy="9.8">/</tspan><tspan font-style="italic">h</tspan></text>
<circle cx="173" cy="1674.3" r="6.8" fill="#a8a8a8" stroke="#000" stroke-width="1.9"/>
<text transform="translate(182.4,1660) rotate(-90)" x="0" y="0" font-size="29.3" text-anchor="start" textLength="108.9"><tspan>G</tspan><tspan font-style="italic" font-size="20.5" dy="9.5">xx</tspan><tspan dy="-9.5"> (mS)</tspan></text>
<rect x="578.1" y="1662" width="11.6" height="11.6" fill="#88aaf8" stroke="#1f4fd0" stroke-width="2" />
<text transform="translate(592.7,1650.7) rotate(-90)" x="0" y="0" font-size="29.3" text-anchor="start" textLength="102.2"><tspan font-style="italic">R</tspan><tspan font-style="italic" font-size="20.5" dy="9.5">xx</tspan><tspan dy="-9.5"> (kΩ)</tspan></text></svg></body></html>
